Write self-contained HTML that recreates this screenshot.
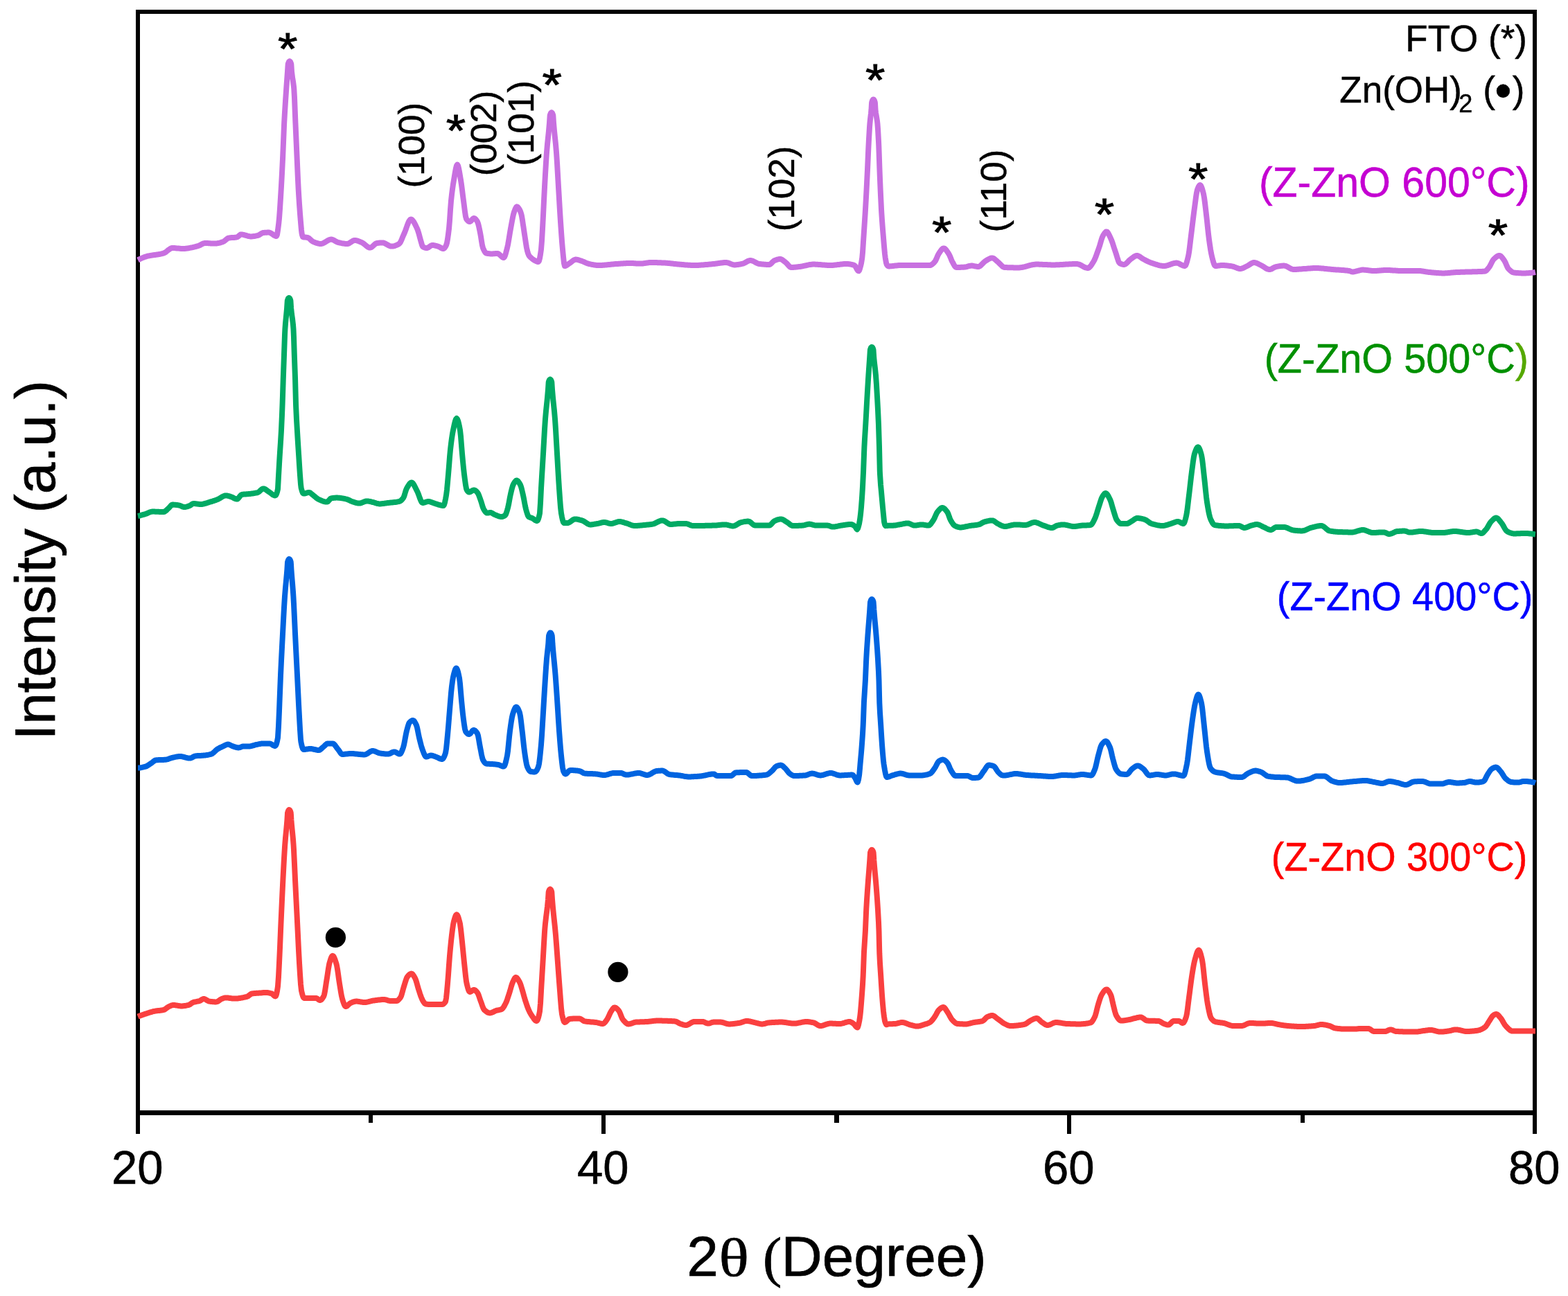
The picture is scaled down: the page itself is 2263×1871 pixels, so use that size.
<!DOCTYPE html>
<html lang="en">
<head>
<meta charset="utf-8">
<title>XRD patterns of Z-ZnO films</title>
<style>
html,body{margin:0;padding:0;background:#fff;}
body{width:2263px;height:1871px;overflow:hidden;}
svg{display:block;}
text{font-family:"Liberation Sans",Arial,Helvetica,sans-serif;fill:#000;}
.sym{font-family:"Liberation Serif","Times New Roman",serif;}
.curve{fill:none;stroke-linejoin:round;stroke-linecap:butt;}
</style>
</head>
<body>
<svg xmlns="http://www.w3.org/2000/svg" width="2263" height="1871" viewBox="0 0 2263 1871">
<rect x="0" y="0" width="2263" height="1871" fill="#ffffff"/>
<g id="axes" fill="#000">
<rect x="196" y="14" width="2022" height="6"/>
<rect x="196" y="1603" width="2022" height="7"/>
<rect x="196" y="14" width="6" height="1596"/>
<rect x="2212" y="14" width="6" height="1596"/>
<rect x="196" y="1603" width="6" height="34"/>
<rect x="868" y="1603" width="6" height="34"/>
<rect x="1540" y="1603" width="6" height="34"/>
<rect x="2212" y="1603" width="6" height="34"/>
<rect x="532" y="1603" width="6" height="18"/>
<rect x="1204" y="1603" width="7" height="18"/>
<rect x="1877" y="1603" width="6" height="18"/>
</g>
<g id="curves">
<path class="curve" d="M199,1467.6L200,1467.2L201,1466.8L202,1466.4L203,1466.1L204,1465.7L205,1465.3L206,1465L207,1464.6L208,1464.3L209,1463.9L210,1463.6L211,1463.3L212,1463L213,1462.6L214,1462.3L215,1462L216,1461.7L217,1461.4L218,1461.1L219,1460.8L220,1460.5L221,1460.2L222,1460L223,1459.8L224,1459.6L225,1459.4L226,1459.3L227,1459.2L228,1459.1L229,1459L230,1458.9L231,1458.8L232,1458.7L233,1458.5L234,1458.4L235,1458.2L236,1458L237,1457.7L238,1457.1L239,1456.5L240,1455.7L241,1454.9L242,1454.2L243,1453.5L244,1453L245,1452.6L246,1452.1L247,1451.7L248,1451.3L249,1451.1L250,1451L251,1451L252,1451.1L253,1451.2L254,1451.4L255,1451.5L256,1451.7L257,1451.9L258,1452L259,1452.2L260,1452.3L261,1452.4L262,1452.4L263,1452.4L264,1452.3L265,1452.2L266,1452.1L267,1452L268,1451.8L269,1451.6L270,1451.4L271,1451.2L272,1451L273,1450.6L274,1450.1L275,1449.4L276,1448.7L277,1448L278,1447.4L279,1447L280,1446.7L281,1446.5L282,1446.3L283,1446.1L284,1445.9L285,1445.7L286,1445.5L287,1445.3L288,1445L289,1444.6L290,1443.9L291,1443.3L292,1442.6L293,1442.2L294,1442L295,1442.1L296,1442.5L297,1443L298,1443.7L299,1444.3L300,1444.9L301,1445.3L302,1445.6L303,1445.7L304,1445.9L305,1446L306,1446.1L307,1446.2L308,1446.3L309,1446.3L310,1446.4L311,1446.4L312,1446.4L313,1446.2L314,1445.8L315,1445.3L316,1444.6L317,1443.8L318,1443.1L319,1442.5L320,1442L321,1441.6L322,1441.3L323,1440.9L324,1440.7L325,1440.5L326,1440.4L327,1440.4L328,1440.5L329,1440.6L330,1440.7L331,1440.9L332,1441L333,1441.1L334,1441.3L335,1441.4L336,1441.5L337,1441.6L338,1441.6L339,1441.6L340,1441.6L341,1441.5L342,1441.4L343,1441.4L344,1441.3L345,1441.1L346,1441L347,1440.9L348,1440.7L349,1440.5L350,1440.3L351,1440.1L352,1439.9L353,1439.7L354,1439.5L355,1439.2L356,1439L357,1438.6L358,1438.1L359,1437.4L360,1436.6L361,1435.8L362,1435.2L363,1434.7L364,1434.4L365,1434.3L366,1434.2L367,1434.1L368,1434L369,1433.9L370,1433.8L371,1433.8L372,1433.7L373,1433.7L374,1433.6L375,1433.5L376,1433.4L377,1433.4L378,1433.3L379,1433.2L380,1433.1L381,1433.1L382,1433L383,1433L384,1433L385,1433L386,1433.1L387,1433.2L388,1433.4L389,1433.6L390,1433.9L391,1434.1L392,1434.4L393,1434.9L394,1435.8L395,1436.8L396,1437.7L397,1438.3L397.6,1438.4L398,1438.1L399,1435.5L400,1430.6L401,1424L402,1410.1L403,1390L404,1368.1L405,1343.9L405.6,1330L406,1321.1L407,1299L408,1278L408.4,1270L409,1258.3L410,1239.4L411,1222.9L411.2,1220L412,1210.2L413,1199.8L414,1189.1L414.4,1184L415,1173.9L415.1,1173.2L416,1170.5L417,1169.1L417.4,1169L418,1169.3L419,1171L419.7,1173.2L420,1176.8L420.4,1184L421,1191.3L422,1201.5L423,1212L423.6,1220L424,1226.7L425,1247.8L426,1270L427,1290.2L428,1310.1L429,1330L430,1350.9L431,1371.8L432,1390L433,1406.4L434,1421.1L435,1430L436,1434.4L437,1437.9L438,1440.2L439,1441L440,1441L441,1441L442,1441L443,1441L444,1441L445,1441L446,1441L447,1441L448,1441L449,1441L450,1441L451,1441L452,1441L453,1441L454,1441L455,1441L456,1441L457,1441.2L458,1441.8L459,1442.5L460,1443.2L461,1443.8L462,1444L463,1443.7L464,1443L465,1441.8L466,1440.3L467,1438.6L467.3,1438L468,1435.9L469,1430.9L470,1424.4L471,1417.7L471.6,1414L472,1411.6L473,1404.9L474,1398.2L475,1392.5L475.6,1390L476,1388.6L477,1385.4L478,1382.5L479,1380.5L480,1379.8L481,1380.3L482,1381.8L483,1384.1L484,1386.9L485,1390L485.6,1392L486,1393.6L487,1399.1L488,1406L489,1413.4L490,1420L491,1426.2L492,1432.4L493,1437.9L494,1442L495,1445.2L496,1448.2L497,1450.7L498,1452.4L499,1453L500,1452.8L501,1452.2L502,1451.3L503,1450.4L504,1449.4L505,1448.6L506,1448L507,1447.6L508,1447.1L509,1446.7L510,1446.4L511,1446.1L512,1445.8L513,1445.7L514,1445.6L515,1445.6L516,1445.7L517,1445.8L518,1446L519,1446.1L520,1446.3L521,1446.5L522,1446.6L523,1446.8L524,1446.9L525,1447L526,1447L527,1447L528,1446.9L529,1446.8L530,1446.6L531,1446.4L532,1446.2L533,1445.9L534,1445.7L535,1445.4L536,1445.2L537,1444.9L538,1444.7L539,1444.5L540,1444.4L541,1444.3L542,1444.1L543,1444L544,1443.9L545,1443.7L546,1443.6L547,1443.5L548,1443.4L549,1443.3L550,1443.2L551,1443.1L552,1443L553,1443L554,1443L555,1443.1L556,1443.2L557,1443.4L558,1443.7L559,1444L560,1444.3L561,1444.6L562,1444.8L563,1444.9L564,1445L565,1445L566,1445L567,1445L568,1445L569,1445L570,1445L571,1445L572,1445L573,1444.8L574,1444.3L575,1443.5L576,1442.5L577,1441.3L578,1440L579,1438L580,1434.8L581,1431.1L582,1427.4L583,1424L584,1420.8L585,1417.5L586,1414.4L587,1411.8L588,1410L589,1408.8L590,1407.7L591,1406.8L592,1406.1L593,1405.7L593.6,1405.6L594,1405.7L595,1406.2L596,1407.2L597,1408.6L598,1410.3L599,1412L600,1414.3L601,1417.4L602,1421L603,1424.6L604,1428L605,1431.1L606,1434.3L607,1437.2L607.5,1438.5L608,1439.8L609,1442.2L610,1444.3L611,1446L612,1447.4L613,1448.6L614,1449.3L614.5,1449.5L615,1449.6L616,1449.7L617,1449.8L618,1449.9L619,1449.9L620,1450L621,1450L622,1450L623,1450L624,1450L625,1450L626,1450L627,1450L628,1450L629,1450L630,1450L631,1450L632,1450L633,1450L634,1450L635,1450L636,1450L637,1450L638,1450L639,1449.8L640,1449.3L641,1448.5L642,1447.4L643,1446L644,1440.9L645,1431.1L646,1420L647,1407.5L648,1393.1L649,1380L650,1368.9L651,1358.8L652,1350L653,1342.1L654,1335L655,1330L656,1326.5L657,1323.4L658,1321.2L659,1320.4L660,1321.1L661,1323.1L662,1326.1L663,1329.7L663.6,1332L664,1333.9L665,1341.2L666,1350.5L667,1360L668,1369.8L669,1380.2L670,1390L671,1399.6L672,1409L673,1416.8L673.6,1420L674,1421.7L675,1425.6L676,1428.9L677,1431.2L678,1432L679,1431.8L680,1431.2L681,1430.5L682,1429.8L683,1429.2L684,1429L685,1429.2L686,1429.8L687,1430.7L688,1431.8L689,1433L690,1434.7L691,1437.3L692,1440.2L693,1443.2L694,1446L695,1448.7L696,1451.6L697,1454.3L698,1456.5L699,1458L700,1458.9L701,1459.7L702,1460.5L703,1461.1L704,1461.7L705,1462.1L706,1462.3L707,1462.4L708,1462.3L709,1462.1L710,1461.7L711,1461.3L712,1460.8L713,1460.3L714,1459.8L715,1459.4L716,1459L717,1458.7L718,1458.5L719,1458.3L720,1458.1L721,1457.9L722,1457.7L723,1457.4L724,1457L725,1456.3L726,1455.1L727,1453.6L728,1451.9L729,1450L730,1448L731,1445.8L732,1443.1L733,1440.1L734,1437.1L735,1434L736,1430.8L737,1427.2L738,1423.7L739,1420.5L740,1418L741,1415.8L742,1413.7L743,1412L744,1411.1L744.4,1411L745,1411.1L746,1411.8L747,1413L748,1414.5L749,1416.2L750,1418L751,1420.3L752,1423.3L753,1426.6L754,1430L755,1433.4L756,1437.1L757,1440.7L758,1444L759,1447.1L760,1450.1L761,1453L762,1455.6L763,1458L764,1460.1L765,1462.1L766,1463.9L767,1465.5L768,1467L769,1468.4L770,1469.9L771,1471.3L772,1472.6L773,1473.5L774,1474L774.4,1474L775,1473.7L776,1472.1L777,1469.1L778,1465L779,1460L780,1448.5L781,1430.5L781.6,1420L782,1413.5L783,1396.8L784,1380L785,1362.2L786,1345.4L786.4,1340L787,1333.4L788,1324.7L789,1317.1L790,1309L791,1298.6L791.7,1287.8L792,1286.7L793,1284.4L794,1283.6L795,1284.4L796,1286.7L796.3,1287.8L797,1298.6L798,1310.4L799,1320.4L800,1329.7L801,1339.2L802,1350L803,1362.6L804,1376.3L805,1390L806,1403.6L807,1417.1L808,1430L809,1443.2L810,1455.7L811,1464L812,1468.6L813,1472.4L814,1475L815,1476L816,1475.7L817,1475L818,1474.1L819,1473.1L820,1472.1L821,1471.3L822,1471L823,1470.9L824,1470.8L825,1470.8L826,1470.7L827,1470.6L828,1470.6L829,1470.5L830,1470.5L831,1470.5L832,1470.4L833,1470.4L834,1470.4L835,1470.4L836,1470.4L837,1470.6L838,1471L839,1471.5L840,1472.2L841,1472.9L842,1473.6L843,1474.1L844,1474.4L845,1474.6L846,1474.7L847,1474.8L848,1475L849,1475L850,1475.1L851,1475.2L852,1475.3L853,1475.4L854,1475.4L855,1475.5L856,1475.6L857,1475.7L858,1475.8L859,1475.9L860,1476L861,1476.2L862,1476.4L863,1476.6L864,1476.9L865,1477.2L866,1477.4L867,1477.7L868,1477.8L869,1478L870,1478L871,1477.7L872,1477L873,1476L874,1474.7L875,1473.4L876,1472L877,1470.4L878,1468.3L879,1466.1L880,1463.8L881,1461.7L882,1460L883,1458.5L884,1457L885,1455.7L886,1454.8L887,1454.4L888,1454.6L889,1455.1L890,1455.9L891,1456.8L892,1457.9L893,1459L894,1460.6L895,1462.8L896,1465.5L897,1468.1L898,1470.4L899,1472L900,1473.2L901,1474.3L902,1475.4L903,1476.4L904,1477.2L905,1477.8L906,1478.3L907,1478.4L908,1478.3L909,1478.2L910,1477.9L911,1477.6L912,1477.3L913,1476.9L914,1476.6L915,1476.2L916,1475.9L917,1475.7L918,1475.6L919,1475.5L920,1475.5L921,1475.4L922,1475.4L923,1475.4L924,1475.3L925,1475.3L926,1475.3L927,1475.2L928,1475.2L929,1475.2L930,1475.2L931,1475.1L932,1475.1L933,1475.1L934,1475L935,1474.9L936,1474.8L937,1474.7L938,1474.6L939,1474.5L940,1474.3L941,1474.2L942,1474.1L943,1473.9L944,1473.8L945,1473.7L946,1473.7L947,1473.6L948,1473.6L949,1473.6L950,1473.6L951,1473.6L952,1473.6L953,1473.6L954,1473.6L955,1473.6L956,1473.7L957,1473.7L958,1473.7L959,1473.7L960,1473.8L961,1473.8L962,1473.8L963,1473.8L964,1473.9L965,1473.9L966,1474L967,1474L968,1474.1L969,1474.1L970,1474.2L971,1474.2L972,1474.3L973,1474.3L974,1474.4L975,1474.6L976,1474.9L977,1475.4L978,1475.9L979,1476.5L980,1477.1L981,1477.6L982,1478L983,1478.3L984,1478.7L985,1479L986,1479.3L987,1479.6L988,1479.8L989,1479.9L990,1480L991,1479.9L992,1479.6L993,1479.2L994,1478.7L995,1478.1L996,1477.5L997,1476.9L998,1476.3L999,1475.8L1000,1475.4L1001,1475.1L1002,1475L1003,1475L1004,1475L1005,1475L1006,1475L1007,1475L1008,1475L1009,1475L1010,1475L1011,1475L1012,1475L1013,1475L1014,1475L1015,1475.1L1016,1475.4L1017,1475.8L1018,1476.3L1019,1476.8L1020,1477.2L1021,1477.5L1022,1477.6L1023,1477.5L1024,1477.3L1025,1477L1026,1476.6L1027,1476.2L1028,1475.9L1029,1475.7L1030,1475.6L1031,1475.6L1032,1475.6L1033,1475.6L1034,1475.6L1035,1475.6L1036,1475.6L1037,1475.6L1038,1475.6L1039,1475.6L1040,1475.6L1041,1475.7L1042,1475.8L1043,1476L1044,1476.3L1045,1476.7L1046,1477L1047,1477.3L1048,1477.7L1049,1478L1050,1478.2L1051,1478.3L1052,1478.4L1053,1478.4L1054,1478.4L1055,1478.3L1056,1478.2L1057,1478.2L1058,1478.1L1059,1478L1060,1477.8L1061,1477.7L1062,1477.6L1063,1477.4L1064,1477.3L1065,1477.1L1066,1477L1067,1476.8L1068,1476.6L1069,1476.3L1070,1476L1071,1475.6L1072,1475.3L1073,1475L1074,1474.6L1075,1474.4L1076,1474.2L1077,1474L1078,1474L1079,1474L1080,1474.1L1081,1474.3L1082,1474.4L1083,1474.7L1084,1474.9L1085,1475.2L1086,1475.4L1087,1475.7L1088,1475.9L1089,1476.2L1090,1476.4L1091,1476.6L1092,1476.9L1093,1477.1L1094,1477.4L1095,1477.7L1096,1477.9L1097,1478.1L1098,1478.3L1099,1478.4L1100,1478.4L1101,1478.4L1102,1478.2L1103,1478L1104,1477.8L1105,1477.5L1106,1477.2L1107,1476.9L1108,1476.7L1109,1476.5L1110,1476.4L1111,1476.3L1112,1476.3L1113,1476.2L1114,1476.1L1115,1476L1116,1476L1117,1475.9L1118,1475.9L1119,1475.8L1120,1475.8L1121,1475.7L1122,1475.7L1123,1475.7L1124,1475.6L1125,1475.6L1126,1475.6L1127,1475.6L1128,1475.6L1129,1475.6L1130,1475.7L1131,1475.7L1132,1475.9L1133,1476L1134,1476.1L1135,1476.3L1136,1476.4L1137,1476.6L1138,1476.8L1139,1476.9L1140,1477.1L1141,1477.2L1142,1477.3L1143,1477.5L1144,1477.5L1145,1477.6L1146,1477.6L1147,1477.6L1148,1477.5L1149,1477.4L1150,1477.3L1151,1477.1L1152,1476.9L1153,1476.7L1154,1476.5L1155,1476.3L1156,1476.1L1157,1475.9L1158,1475.7L1159,1475.5L1160,1475.3L1161,1475.2L1162,1475.1L1163,1475L1164,1475L1165,1475L1166,1475.1L1167,1475.2L1168,1475.3L1169,1475.4L1170,1475.6L1171,1475.8L1172,1476L1173,1476.2L1174,1476.4L1175,1476.7L1176,1477.2L1177,1477.7L1178,1478.3L1179,1479L1180,1479.6L1181,1480.1L1182,1480.6L1183,1480.9L1184,1481L1185,1481L1186,1480.8L1187,1480.6L1188,1480.3L1189,1480L1190,1479.7L1191,1479.3L1192,1478.9L1193,1478.6L1194,1478.3L1195,1478L1196,1477.8L1197,1477.6L1198,1477.6L1199,1477.6L1200,1477.6L1201,1477.6L1202,1477.7L1203,1477.7L1204,1477.8L1205,1477.8L1206,1477.8L1207,1477.9L1208,1477.9L1209,1478L1210,1478L1211,1478L1212,1478L1213,1478L1214,1477.8L1215,1477.6L1216,1477.4L1217,1477.1L1218,1476.8L1219,1476.5L1220,1476.2L1221,1475.9L1222,1475.6L1223,1475.4L1224,1475.2L1225,1475L1226,1475L1227,1475.1L1228,1475.5L1229,1476L1230,1476.6L1231,1477.3L1232,1478L1233,1478.9L1234,1480.2L1235,1481.5L1236,1482.6L1237,1483.3L1237.5,1483.4L1238,1482.9L1239,1479.7L1240,1475L1240.2,1474L1241,1469L1241.5,1465L1242,1460.3L1243,1448.6L1243.6,1440.8L1244,1435.5L1245,1421.1L1245.7,1408.5L1246,1401.2L1246.9,1376.3L1247,1374.3L1248,1358.4L1248.9,1344L1249,1342L1250,1318.1L1250.3,1311.8L1251,1299.8L1252,1285.1L1252.4,1279.5L1253,1271.4L1254,1258.8L1255,1245.9L1255.3,1241.7L1256,1230.9L1257,1228L1258,1226.8L1258.3,1226.7L1259,1227.1L1260,1228.9L1260.6,1230.9L1261,1236.4L1261.3,1241.7L1262,1250.5L1263,1261.5L1264,1272.3L1264.6,1279.5L1265,1284.6L1266,1298L1266.9,1311.8L1267,1313.5L1268,1331.7L1268.5,1344L1269,1365.1L1269.3,1376.3L1270,1390.6L1271,1405.4L1271.2,1408.5L1272,1421.6L1273,1436.8L1273.3,1440.8L1274,1449.3L1275,1459.9L1275.6,1465L1276,1467.9L1277,1473.9L1277.3,1475L1278,1477L1279,1479L1279.5,1479.3L1280,1479.2L1281,1478.7L1282,1478.4L1283,1478.3L1284,1478.3L1285,1478.2L1286,1478.2L1287,1478.2L1288,1478.2L1289,1478.1L1290,1478.1L1291,1478.1L1292,1478L1293,1477.9L1294,1477.7L1295,1477.5L1296,1477.2L1297,1476.9L1298,1476.6L1299,1476.4L1300,1476.2L1301,1476L1302,1476L1303,1476.1L1304,1476.2L1305,1476.4L1306,1476.7L1307,1477.1L1308,1477.4L1309,1477.8L1310,1478.2L1311,1478.6L1312,1479L1313,1479.3L1314,1479.6L1315,1479.8L1316,1480.1L1317,1480.4L1318,1480.6L1319,1480.9L1320,1481.1L1321,1481.3L1322,1481.5L1323,1481.6L1324,1481.6L1325,1481.6L1326,1481.4L1327,1481.2L1328,1481L1329,1480.7L1330,1480.4L1331,1480L1332,1479.7L1333,1479.3L1334,1479L1335,1478.7L1336,1478.4L1337,1478.1L1338,1477.8L1339,1477.4L1340,1477L1341,1476.5L1342,1476L1343,1475.3L1344,1474.4L1345,1473.3L1346,1472.1L1347,1470.7L1348,1469.4L1349,1468L1350,1466.4L1351,1464.6L1352,1462.7L1353,1460.8L1354,1459.2L1355,1458L1356,1457.1L1357,1456.2L1358,1455.4L1359,1454.8L1360,1454.3L1361,1454L1361.4,1454L1362,1454.1L1363,1454.8L1364,1455.9L1365,1457.3L1366,1458.9L1367,1460.5L1368,1462L1369,1463.6L1370,1465.4L1371,1467.3L1372,1469.1L1373,1470.7L1374,1472L1375,1473.1L1376,1474.1L1377,1475.1L1378,1476L1379,1476.8L1380,1477.4L1381,1477.8L1382,1478L1383,1478.1L1384,1478.1L1385,1478.2L1386,1478.2L1387,1478.3L1388,1478.3L1389,1478.3L1390,1478.4L1391,1478.4L1392,1478.4L1393,1478.4L1394,1478.4L1395,1478.4L1396,1478.3L1397,1478.1L1398,1477.9L1399,1477.7L1400,1477.5L1401,1477.2L1402,1476.9L1403,1476.7L1404,1476.4L1405,1476.2L1406,1476L1407,1475.8L1408,1475.7L1409,1475.5L1410,1475.4L1411,1475.3L1412,1475.2L1413,1475L1414,1474.9L1415,1474.7L1416,1474.5L1417,1474.3L1418,1474L1419,1473.5L1420,1472.7L1421,1471.7L1422,1470.6L1423,1469.5L1424,1468.6L1425,1468L1426,1467.6L1427,1467.2L1428,1466.8L1429,1466.5L1430,1466.2L1431,1466.1L1432,1466L1433,1466.1L1434,1466.5L1435,1467.1L1436,1467.8L1437,1468.6L1438,1469.5L1439,1470.3L1440,1471L1441,1471.7L1442,1472.4L1443,1473.2L1444,1473.9L1445,1474.7L1446,1475.5L1447,1476.2L1448,1476.9L1449,1477.5L1450,1478L1451,1478.5L1452,1479L1453,1479.5L1454,1480L1455,1480.4L1456,1480.7L1457,1480.9L1458,1481L1459,1481L1460,1481L1461,1480.9L1462,1480.9L1463,1480.9L1464,1480.8L1465,1480.7L1466,1480.7L1467,1480.6L1468,1480.5L1469,1480.4L1470,1480.2L1471,1480.1L1472,1480L1473,1479.8L1474,1479.7L1475,1479.5L1476,1479.4L1477,1479.2L1478,1479L1479,1478.7L1480,1478.3L1481,1477.7L1482,1477.1L1483,1476.3L1484,1475.6L1485,1474.9L1486,1474.2L1487,1473.5L1488,1473L1489,1472.5L1490,1472L1491,1471.5L1492,1471L1493,1470.6L1494,1470.3L1495,1470.1L1496,1470L1497,1470.2L1498,1470.7L1499,1471.5L1500,1472.4L1501,1473.4L1502,1474.4L1503,1475.3L1504,1476L1505,1476.6L1506,1477.3L1507,1478L1508,1478.6L1509,1479.2L1510,1479.6L1511,1479.9L1512,1480L1513,1479.9L1514,1479.7L1515,1479.4L1516,1479L1517,1478.5L1518,1478L1519,1477.5L1520,1477L1521,1476.6L1522,1476.3L1523,1476.1L1524,1476L1525,1476L1526,1476.1L1527,1476.2L1528,1476.3L1529,1476.4L1530,1476.6L1531,1476.7L1532,1476.9L1533,1477.1L1534,1477.3L1535,1477.4L1536,1477.6L1537,1477.7L1538,1477.9L1539,1477.9L1540,1478L1541,1478L1542,1478.1L1543,1478.1L1544,1478.1L1545,1478.2L1546,1478.2L1547,1478.2L1548,1478.3L1549,1478.3L1550,1478.3L1551,1478.3L1552,1478.3L1553,1478.4L1554,1478.4L1555,1478.4L1556,1478.4L1557,1478.4L1558,1478.4L1559,1478.4L1560,1478.4L1561,1478.3L1562,1478.3L1563,1478.2L1564,1478.1L1565,1478L1566,1477.9L1567,1477.8L1568,1477.6L1569,1477.5L1570,1477.3L1571,1477.1L1572,1476.9L1573,1476.7L1574,1476.4L1575,1475.9L1576,1474.9L1577,1473.5L1578,1471.9L1579,1470L1580,1468L1581,1465.3L1582,1461.7L1583,1457.6L1584,1453.6L1585,1450L1586,1446.8L1587,1443.6L1588,1440.6L1589,1438L1590,1436L1591,1434.4L1592,1432.9L1593,1431.4L1594,1430.2L1595,1429.3L1596,1428.6L1597,1428.4L1598,1428.7L1599,1429.5L1600,1430.7L1601,1432.3L1602,1434.1L1603,1436L1604,1438.9L1605,1443.1L1606,1447.8L1607,1452L1608,1456L1609,1460L1610,1463.5L1611,1466L1612,1467.7L1613,1469.3L1614,1470.7L1615,1471.9L1616,1472.8L1617,1473.4L1618,1473.6L1619,1473.6L1620,1473.5L1621,1473.4L1622,1473.3L1623,1473.2L1624,1473.1L1625,1472.9L1626,1472.7L1627,1472.6L1628,1472.4L1629,1472.2L1630,1472L1631,1471.8L1632,1471.5L1633,1471.3L1634,1471L1635,1470.7L1636,1470.5L1637,1470.2L1638,1470L1639,1469.8L1640,1469.5L1641,1469.2L1642,1469L1643,1468.8L1644,1468.6L1645,1468.4L1646,1468.4L1647,1468.5L1648,1468.9L1649,1469.5L1650,1470.2L1651,1470.9L1652,1471.7L1653,1472.4L1654,1473L1655,1473.4L1656,1473.6L1657,1473.6L1658,1473.7L1659,1473.7L1660,1473.7L1661,1473.8L1662,1473.8L1663,1473.8L1664,1473.8L1665,1473.8L1666,1473.8L1667,1473.8L1668,1473.9L1669,1473.9L1670,1473.9L1671,1474L1672,1474L1673,1474.2L1674,1474.6L1675,1475.1L1676,1475.7L1677,1476.4L1678,1477L1679,1477.6L1680,1478L1681,1478.4L1682,1478.7L1683,1479.1L1684,1479.3L1685,1479.5L1686,1479.6L1687,1479.4L1688,1478.7L1689,1477.8L1690,1476.8L1691,1475.8L1692,1474.9L1693,1474.2L1694,1474L1695,1474L1696,1474L1697,1474L1698,1474L1699,1474L1700,1474L1701,1474L1702,1474.2L1703,1474.8L1704,1475.5L1705,1476.2L1706,1476.8L1707,1477L1708,1476.5L1709,1475.2L1710,1473.3L1711,1470.8L1712,1468L1713,1463.3L1714,1456.2L1715,1447.9L1716,1440L1717,1432.4L1718,1424.5L1719,1416.9L1720,1410L1721,1403.7L1722,1397.6L1723,1392.1L1724,1387.5L1724.4,1386L1725,1383.8L1726,1380.3L1727,1376.9L1728,1374.2L1729,1372.3L1730,1371.6L1731,1372.4L1732,1374.6L1733,1377.8L1734,1381.7L1735,1386L1736,1392.3L1737,1401.2L1738,1411L1739,1420L1740,1428.2L1741,1436.3L1742,1443.8L1743,1450L1744,1455.2L1745,1460.2L1746,1464.5L1747,1467.9L1748,1470L1749,1471.3L1750,1472.4L1751,1473.3L1752,1474.1L1753,1474.6L1754,1475L1755,1475.3L1756,1475.5L1757,1475.7L1758,1475.9L1759,1476L1760,1476.1L1761,1476.3L1762,1476.4L1763,1476.5L1764,1476.6L1765,1476.8L1766,1477L1767,1477.2L1768,1477.5L1769,1477.9L1770,1478.2L1771,1478.6L1772,1479L1773,1479.4L1774,1479.7L1775,1480.1L1776,1480.4L1777,1480.6L1778,1480.8L1779,1481L1780,1481L1781,1481L1782,1481L1783,1481L1784,1481L1785,1481L1786,1481L1787,1481L1788,1481L1789,1481L1790,1481L1791,1481L1792,1481L1793,1480.9L1794,1480.7L1795,1480.4L1796,1480L1797,1479.5L1798,1479L1799,1478.5L1800,1478L1801,1477.6L1802,1477.3L1803,1477.1L1804,1477L1805,1477L1806,1477L1807,1477.1L1808,1477.1L1809,1477.1L1810,1477.2L1811,1477.2L1812,1477.3L1813,1477.4L1814,1477.4L1815,1477.5L1816,1477.5L1817,1477.5L1818,1477.6L1819,1477.6L1820,1477.6L1821,1477.6L1822,1477.6L1823,1477.5L1824,1477.5L1825,1477.4L1826,1477.4L1827,1477.3L1828,1477.2L1829,1477.2L1830,1477.1L1831,1477.1L1832,1477L1833,1477L1834,1477L1835,1477L1836,1477.1L1837,1477.2L1838,1477.4L1839,1477.6L1840,1477.8L1841,1478L1842,1478.3L1843,1478.5L1844,1478.8L1845,1479L1846,1479.2L1847,1479.4L1848,1479.6L1849,1479.7L1850,1479.9L1851,1480L1852,1480.2L1853,1480.3L1854,1480.5L1855,1480.6L1856,1480.7L1857,1480.8L1858,1480.9L1859,1481L1860,1481.1L1861,1481.2L1862,1481.2L1863,1481.3L1864,1481.4L1865,1481.5L1866,1481.5L1867,1481.6L1868,1481.7L1869,1481.7L1870,1481.8L1871,1481.8L1872,1481.9L1873,1481.9L1874,1482L1875,1482L1876,1482L1877,1482L1878,1482L1879,1482L1880,1482L1881,1482L1882,1481.9L1883,1481.9L1884,1481.9L1885,1481.8L1886,1481.8L1887,1481.7L1888,1481.7L1889,1481.6L1890,1481.5L1891,1481.5L1892,1481.4L1893,1481.3L1894,1481.2L1895,1481.2L1896,1481.1L1897,1481L1898,1480.9L1899,1480.7L1900,1480.4L1901,1480.2L1902,1479.9L1903,1479.6L1904,1479.4L1905,1479.2L1906,1479L1907,1479L1908,1479L1909,1479.1L1910,1479.2L1911,1479.3L1912,1479.5L1913,1479.6L1914,1479.8L1915,1480L1916,1480.3L1917,1480.5L1918,1480.8L1919,1481L1920,1481.3L1921,1481.8L1922,1482.3L1923,1482.8L1924,1483.3L1925,1483.8L1926,1484.2L1927,1484.4L1928,1484.5L1929,1484.7L1930,1484.8L1931,1484.9L1932,1485L1933,1485.1L1934,1485.2L1935,1485.3L1936,1485.4L1937,1485.4L1938,1485.5L1939,1485.5L1940,1485.6L1941,1485.6L1942,1485.6L1943,1485.6L1944,1485.6L1945,1485.6L1946,1485.6L1947,1485.6L1948,1485.6L1949,1485.6L1950,1485.6L1951,1485.6L1952,1485.6L1953,1485.6L1954,1485.6L1955,1485.6L1956,1485.6L1957,1485.5L1958,1485.4L1959,1485.3L1960,1485.2L1961,1485.1L1962,1485L1963,1485L1964,1485L1965,1485L1966,1485L1967,1485L1968,1485L1969,1485L1970,1485L1971,1485L1972,1485L1973,1485L1974,1485L1975,1485L1976,1485.2L1977,1485.6L1978,1486.3L1979,1487L1980,1487.7L1981,1488.4L1982,1488.8L1983,1489L1984,1489L1985,1489L1986,1489L1987,1489L1988,1489L1989,1489L1990,1489L1991,1489L1992,1489L1993,1489L1994,1489L1995,1489L1996,1489L1997,1489L1998,1489L1999,1489L2000,1488.9L2001,1488.6L2002,1488.2L2003,1487.7L2004,1487.2L2005,1486.8L2006,1486.5L2007,1486.4L2008,1486.5L2009,1486.8L2010,1487.2L2011,1487.7L2012,1488.1L2013,1488.5L2014,1488.9L2015,1489L2016,1489L2017,1489.1L2018,1489.1L2019,1489.2L2020,1489.2L2021,1489.2L2022,1489.3L2023,1489.3L2024,1489.3L2025,1489.4L2026,1489.4L2027,1489.4L2028,1489.4L2029,1489.5L2030,1489.5L2031,1489.5L2032,1489.5L2033,1489.5L2034,1489.5L2035,1489.6L2036,1489.6L2037,1489.6L2038,1489.6L2039,1489.6L2040,1489.6L2041,1489.6L2042,1489.6L2043,1489.6L2044,1489.6L2045,1489.5L2046,1489.4L2047,1489.3L2048,1489.1L2049,1489L2050,1488.8L2051,1488.6L2052,1488.4L2053,1488.3L2054,1488.1L2055,1488L2056,1487.9L2057,1487.8L2058,1487.6L2059,1487.5L2060,1487.4L2061,1487.2L2062,1487.1L2063,1487.1L2064,1487L2065,1487L2066,1487L2067,1487.1L2068,1487.3L2069,1487.5L2070,1487.8L2071,1488L2072,1488.3L2073,1488.6L2074,1488.8L2075,1489.1L2076,1489.3L2077,1489.5L2078,1489.6L2079,1489.6L2080,1489.6L2081,1489.5L2082,1489.5L2083,1489.4L2084,1489.3L2085,1489.2L2086,1489.1L2087,1489L2088,1488.8L2089,1488.7L2090,1488.5L2091,1488.4L2092,1488.2L2093,1488L2094,1487.8L2095,1487.5L2096,1487.2L2097,1487L2098,1486.7L2099,1486.6L2100,1486.4L2101,1486.4L2102,1486.4L2103,1486.5L2104,1486.6L2105,1486.8L2106,1487L2107,1487.2L2108,1487.5L2109,1487.7L2110,1487.9L2111,1488.2L2112,1488.4L2113,1488.6L2114,1488.8L2115,1488.9L2116,1489L2117,1489L2118,1489L2119,1489L2120,1488.9L2121,1488.9L2122,1488.8L2123,1488.8L2124,1488.7L2125,1488.6L2126,1488.5L2127,1488.4L2128,1488.3L2129,1488.2L2130,1488L2131,1487.9L2132,1487.8L2133,1487.6L2134,1487.4L2135,1487.2L2136,1486.8L2137,1486.4L2138,1486L2139,1485.5L2140,1485L2141,1484.3L2142,1483.7L2143,1483L2144,1482.1L2145,1480.9L2146,1479.4L2147,1477.8L2148,1476.1L2149,1474.5L2150,1473L2151,1471.5L2152,1469.8L2153,1468.3L2154,1466.9L2155,1466L2156,1465.3L2157,1464.7L2158,1464.3L2159,1464L2159.4,1464L2160,1464.1L2161,1464.5L2162,1465.3L2163,1466.4L2164,1467.6L2165,1468.8L2166,1470L2167,1471.3L2168,1472.9L2169,1474.7L2170,1476.5L2171,1478.2L2172,1479.8L2173,1481L2174,1482.1L2175,1483.1L2176,1484.2L2177,1485.2L2178,1486.1L2179,1486.9L2180,1487.6L2181,1488.1L2182,1488.5L2183,1488.6L2184,1488.6L2185,1488.6L2186,1488.6L2187,1488.6L2188,1488.6L2189,1488.6L2190,1488.6L2191,1488.6L2192,1488.6L2193,1488.6L2194,1488.6L2195,1488.6L2196,1488.6L2197,1488.6L2198,1488.6L2199,1488.6L2200,1488.6L2201,1488.6L2202,1488.6L2203,1488.6L2204,1488.6L2205,1488.6L2206,1488.6L2207,1488.6L2208,1488.6L2209,1488.6L2210,1488.6L2211,1488.6L2212,1488.6L2213,1488.6L2214,1488.6L2215,1488.6L2216,1488.6" stroke="#fa4040" stroke-width="8"/>
<path class="curve" d="M199,1108.6L200,1108.6L201,1108.5L202,1108.4L203,1108.3L204,1108.1L205,1107.9L206,1107.7L207,1107.4L208,1107.2L209,1106.9L210,1106.6L211,1106.3L212,1105.8L213,1105.2L214,1104.6L215,1104L216,1103.3L217,1102.6L218,1102L219,1101.3L220,1100.5L221,1099.7L222,1098.9L223,1098.2L224,1097.7L225,1097.4L226,1097.3L227,1097.2L228,1097.2L229,1097.1L230,1097.1L231,1097L232,1097L233,1097L234,1096.9L235,1096.9L236,1096.9L237,1096.8L238,1096.8L239,1096.7L240,1096.6L241,1096.4L242,1096.2L243,1095.8L244,1095.4L245,1095L246,1094.6L247,1094.3L248,1094L249,1093.8L250,1093.5L251,1093.3L252,1093.1L253,1092.9L254,1092.7L255,1092.5L256,1092.3L257,1092.2L258,1092.1L259,1092L260,1092L261,1092L262,1092.1L263,1092.3L264,1092.5L265,1092.8L266,1093L267,1093.3L268,1093.6L269,1093.8L270,1094.1L271,1094.3L272,1094.5L273,1094.6L274,1094.6L275,1094.5L276,1094.1L277,1093.7L278,1093.1L279,1092.6L280,1092L281,1091.6L282,1091.4L283,1091.3L284,1091.2L285,1091.1L286,1091.1L287,1091L288,1091L289,1090.9L290,1090.9L291,1090.8L292,1090.8L293,1090.7L294,1090.6L295,1090.5L296,1090.4L297,1090.3L298,1090.1L299,1090L300,1089.8L301,1089.6L302,1089.4L303,1089.2L304,1088.9L305,1088.6L306,1088.2L307,1087.5L308,1086.7L309,1085.8L310,1084.9L311,1083.9L312,1082.9L313,1082.1L314,1081.4L315,1080.8L316,1080.3L317,1079.7L318,1079.2L319,1078.8L320,1078.3L321,1077.8L322,1077.4L323,1076.9L324,1076.4L325,1075.9L326,1075.4L327,1075L328,1074.7L329,1074.6L330,1074.7L331,1075L332,1075.5L333,1076L334,1076.5L335,1077L336,1077.4L337,1077.7L338,1078.1L339,1078.4L340,1078.7L341,1079L342,1079.2L343,1079.3L344,1079.4L345,1079.3L346,1079.1L347,1078.8L348,1078.4L349,1078L350,1077.7L351,1077.5L352,1077.4L353,1077.4L354,1077.4L355,1077.4L356,1077.4L357,1077.4L358,1077.4L359,1077.4L360,1077.4L361,1077.4L362,1077.2L363,1077L364,1076.7L365,1076.4L366,1076.1L367,1075.8L368,1075.5L369,1075.2L370,1075L371,1074.8L372,1074.6L373,1074.4L374,1074.2L375,1074L376,1073.8L377,1073.6L378,1073.5L379,1073.4L380,1073.4L381,1073.4L382,1073.4L383,1073.4L384,1073.4L385,1073.4L386,1073.4L387,1073.4L388,1073.4L389,1073.4L390,1073.6L391,1074L392,1074.5L393,1075.2L394,1075.9L395,1076.4L396,1076.8L397,1077L398,1076.2L399,1073.9L400,1070.1L401,1065L402,1048.7L402.6,1035L403,1025.9L404,1000L405,975L406,953.7L407,934L408,915L409,895.7L410,877L411,861L412,848.7L413,838.2L414,827.1L414.4,822L415,811.9L415.1,811.2L416,808.5L417,807.1L417.4,807L418,807.3L419,809L419.7,811.2L420,814.8L420.4,822L421,830L422,842L423,854.9L423.4,861L424,871.8L425,893.3L426,915L427,935.2L428,955.1L429,975L430,995.7L431,1016.3L432,1035L433,1053.1L434,1067.8L434.4,1071L435,1074L436,1078.2L437,1081L438,1082L439,1082L440,1081.9L441,1081.8L442,1081.6L443,1081.5L444,1081.4L445,1081.2L446,1081.1L447,1081L448,1081L449,1081L450,1081.1L451,1081.3L452,1081.5L453,1081.8L454,1082L455,1082.2L456,1082.5L457,1082.7L458,1082.9L459,1083L460,1083L461,1082.8L462,1082.3L463,1081.6L464,1080.7L465,1079.7L466,1078.8L467,1078L468,1077.1L469,1076.1L470,1075.1L471,1074.3L472,1073.6L473,1073.4L474,1073.4L475,1073.4L476,1073.4L477,1073.4L478,1073.4L479,1073.4L480,1073.4L481,1073.6L482,1074.3L483,1075.3L484,1076.6L485,1078L486,1079.4L487,1080.8L488,1082L489,1083.3L490,1084.8L491,1086.3L492,1087.7L493,1088.6L494,1089L495,1089L496,1088.9L497,1088.8L498,1088.7L499,1088.6L500,1088.5L501,1088.4L502,1088.3L503,1088.2L504,1088.1L505,1088L506,1088L507,1088L508,1088L509,1088.1L510,1088.1L511,1088.2L512,1088.3L513,1088.4L514,1088.5L515,1088.6L516,1088.7L517,1088.8L518,1088.9L519,1089L520,1089.1L521,1089.2L522,1089.3L523,1089.3L524,1089.4L525,1089.4L526,1089.4L527,1089.3L528,1089L529,1088.6L530,1088L531,1087.4L532,1086.7L533,1086L534,1085.4L535,1084.8L536,1084.4L537,1084.1L538,1084L539,1084.1L540,1084.3L541,1084.6L542,1085L543,1085.5L544,1086L545,1086.4L546,1086.8L547,1087.2L548,1087.4L549,1087.6L550,1087.7L551,1087.9L552,1088L553,1088.1L554,1088.2L555,1088.3L556,1088.4L557,1088.5L558,1088.6L559,1088.6L560,1088.6L561,1088.5L562,1088.2L563,1087.8L564,1087.3L565,1086.7L566,1086.2L567,1085.8L568,1085.5L569,1085.4L570,1085.5L571,1085.9L572,1086.4L573,1087L574,1087.6L575,1088.1L576,1088.5L577,1088.6L578,1088L579,1086.5L580,1084.4L581,1081.8L582,1079L583,1075.3L584,1070.3L585,1064.8L586,1059.4L587,1055L588,1051.3L589,1047.7L590,1044.8L591,1043L592,1042L593,1041.2L594,1040.6L595,1040.1L596,1040L597,1040.4L598,1041.4L599,1043L600,1044.9L601,1047L602,1050.3L603,1055.1L604,1060.3L605,1065L606,1069L607,1073L608,1076.8L609,1080.2L610,1083L611,1085.6L612,1088.2L613,1090.4L614,1092L615,1092.6L616,1092.5L617,1092.2L618,1091.8L619,1091.4L620,1091L621,1090.7L622,1090.6L623,1090.7L624,1090.8L625,1091.1L626,1091.5L627,1091.9L628,1092.2L629,1092.6L630,1093L631,1093.4L632,1093.8L633,1094.3L634,1094.8L635,1095.3L636,1095.7L637,1095.9L638,1096L639,1095.6L640,1094.3L641,1092.4L642,1090L643,1087L644,1081.1L645,1071.5L646,1061L647,1049.8L648,1037.3L649,1025L650,1012.7L651,1000.7L652,991L653,983.6L654,977.5L655,973L656,969.5L657,966.5L658,964.8L658.4,964.6L659,964.9L660,966.8L661,970L662,974.2L663,979L664,987.3L665,999.4L666,1011L667,1021.1L668,1030.8L669,1039L670,1046.2L671,1052.5L672,1056L673,1057.4L674,1058.5L675,1059.3L676,1059.8L677,1060L678,1059.6L679,1058.7L680,1057.4L681,1056.1L682,1054.9L683,1054.1L683.6,1054L684,1054L685,1054.4L686,1055.1L687,1056.2L688,1057.5L689,1059L690,1062.1L691,1067.4L692,1073.5L693,1079L694,1084.1L695,1089.5L696,1094L697,1097L698,1098.7L699,1100.2L700,1101.4L701,1102.2L702,1102.6L703,1102.7L704,1102.8L705,1102.8L706,1102.8L707,1102.9L708,1102.9L709,1102.9L710,1103L711,1103.1L712,1103.2L713,1103.2L714,1103.3L715,1103.4L716,1103.6L717,1103.7L718,1103.8L719,1104L720,1104.2L721,1104.6L722,1105L723,1105.5L724,1105.9L725,1106.3L726,1106.5L727,1106.6L728,1105.7L729,1103.4L730,1099.9L731,1095.6L732,1091L733,1084.1L734,1074.2L735,1063.8L736,1055L737,1047.8L738,1041L739,1035.2L740,1031L741,1027.9L742,1025.1L743,1022.8L744,1021.2L745,1020.6L746,1021L747,1022.2L748,1024L749,1026.3L750,1029L751,1033.8L752,1041.3L753,1050L753.6,1055L754,1058.3L755,1067.6L756,1077L757,1085L758,1091.8L759,1098.3L760,1103.6L761,1107L762,1109.2L763,1111L764,1112.5L765,1113.6L766,1114L767,1114.1L768,1114.2L769,1114.3L770,1114.4L771,1114.4L772,1114.4L773,1114L774,1113L775,1111.5L776,1109.4L777,1107L778,1102.6L779,1095.1L780,1085.6L781,1075L782,1061.5L783,1044.9L783.6,1035L784,1028.5L785,1011.5L786,995L787,979.2L788,964L789,951L790,941.6L791,932.8L791.4,928.4L792,918.3L792.1,917.6L793,914.9L794,913.5L794.4,913.4L795,913.7L796,915.4L796.7,917.6L797,921.2L797.4,928.4L798,936L799,947L800,957.2L801,967.9L801.6,975L802,980.2L803,994.2L804,1009L804.4,1015L805,1024.2L806,1040.2L807,1055L808,1068.3L809,1080.6L810,1091L811,1100.2L812,1108.2L813,1113L814,1115.2L815,1116.8L816,1117.4L817,1117.1L818,1116.3L819,1115.3L820,1114.1L821,1113.1L822,1112.3L823,1112L824,1112L825,1112L826,1112.1L827,1112.1L828,1112.2L829,1112.2L830,1112.3L831,1112.4L832,1112.5L833,1112.6L834,1112.7L835,1112.9L836,1113L837,1113.3L838,1113.7L839,1114.2L840,1114.8L841,1115.4L842,1116L843,1116.4L844,1116.6L845,1116.7L846,1116.8L847,1116.8L848,1116.9L849,1116.9L850,1117L851,1117L852,1117L853,1117.1L854,1117.1L855,1117.1L856,1117.2L857,1117.2L858,1117.3L859,1117.3L860,1117.4L861,1117.5L862,1117.6L863,1117.8L864,1117.9L865,1118.1L866,1118.3L867,1118.5L868,1118.7L869,1118.8L870,1118.9L871,1119L872,1119L873,1119L874,1118.8L875,1118.6L876,1118.4L877,1118.1L878,1117.8L879,1117.5L880,1117.2L881,1116.9L882,1116.6L883,1116.4L884,1116.2L885,1116L886,1116L887,1116L888,1116L889,1116L890,1116L891,1116L892,1116L893,1116L894,1116L895,1116L896,1116L897,1116.1L898,1116.4L899,1116.8L900,1117.3L901,1117.8L902,1118.2L903,1118.5L904,1118.6L905,1118.6L906,1118.5L907,1118.4L908,1118.3L909,1118.1L910,1117.9L911,1117.7L912,1117.5L913,1117.3L914,1117.1L915,1116.9L916,1116.7L917,1116.5L918,1116.3L919,1116.2L920,1116.1L921,1116L922,1116L923,1116.1L924,1116.2L925,1116.5L926,1116.8L927,1117.1L928,1117.5L929,1117.9L930,1118.2L931,1118.5L932,1118.8L933,1118.9L934,1119L935,1118.9L936,1118.7L937,1118.3L938,1117.9L939,1117.3L940,1116.8L941,1116.1L942,1115.5L943,1114.9L944,1114.4L945,1113.9L946,1113.5L947,1113.2L948,1113L949,1112.9L950,1112.8L951,1112.8L952,1112.7L953,1112.7L954,1112.6L955,1112.6L956,1112.6L957,1112.7L958,1113.1L959,1113.7L960,1114.3L961,1115.1L962,1115.8L963,1116.6L964,1117.2L965,1117.7L966,1118L967,1118.2L968,1118.3L969,1118.4L970,1118.5L971,1118.6L972,1118.7L973,1118.8L974,1118.9L975,1119L976,1119L977,1119.1L978,1119.2L979,1119.3L980,1119.4L981,1119.5L982,1119.7L983,1119.9L984,1120L985,1120.2L986,1120.4L987,1120.6L988,1120.8L989,1121L990,1121.1L991,1121.2L992,1121.3L993,1121.4L994,1121.4L995,1121.4L996,1121.4L997,1121.4L998,1121.3L999,1121.3L1000,1121.3L1001,1121.2L1002,1121.1L1003,1121.1L1004,1121L1005,1121L1006,1120.9L1007,1120.8L1008,1120.7L1009,1120.7L1010,1120.6L1011,1120.5L1012,1120.4L1013,1120.2L1014,1120.1L1015,1119.9L1016,1119.7L1017,1119.5L1018,1119.3L1019,1119L1020,1118.8L1021,1118.6L1022,1118.4L1023,1118.2L1024,1118L1025,1117.8L1026,1117.7L1027,1117.6L1028,1117.5L1029,1117.4L1030,1117.4L1031,1117.7L1032,1118.3L1033,1119.1L1034,1119.7L1035,1120L1036,1120L1037,1120L1038,1120L1039,1120L1040,1120L1041,1120L1042,1120L1043,1120L1044,1120L1045,1120L1046,1120L1047,1120L1048,1120L1049,1120L1050,1120L1051,1120L1052,1120L1053,1120L1054,1120L1055,1120L1056,1119.8L1057,1119.1L1058,1118.2L1059,1117.3L1060,1116.4L1061,1115.7L1062,1115.4L1063,1115.3L1064,1115.3L1065,1115.2L1066,1115.2L1067,1115.2L1068,1115.1L1069,1115.1L1070,1115.1L1071,1115.1L1072,1115L1073,1115L1074,1115L1075,1115L1076,1115L1077,1115L1078,1115.2L1079,1115.8L1080,1116.6L1081,1117.5L1082,1118.4L1083,1119.2L1084,1119.8L1085,1120L1086,1120L1087,1120L1088,1120L1089,1120L1090,1119.9L1091,1119.9L1092,1119.9L1093,1119.8L1094,1119.8L1095,1119.7L1096,1119.6L1097,1119.6L1098,1119.5L1099,1119.4L1100,1119.3L1101,1119.2L1102,1119.1L1103,1119L1104,1118.9L1105,1118.7L1106,1118.6L1107,1118.3L1108,1117.9L1109,1117.2L1110,1116.5L1111,1115.6L1112,1114.8L1113,1113.9L1114,1113L1115,1112.1L1116,1110.9L1117,1109.7L1118,1108.5L1119,1107.4L1120,1106.6L1121,1106L1122,1105.6L1123,1105.3L1124,1105L1125,1104.8L1126,1104.7L1127,1104.6L1128,1104.8L1129,1105.3L1130,1106.1L1131,1107.1L1132,1108.1L1133,1109L1134,1110L1135,1111.2L1136,1112.5L1137,1113.8L1138,1115.1L1139,1116.2L1140,1117L1141,1117.7L1142,1118.4L1143,1119L1144,1119.5L1145,1119.9L1146,1120L1147,1120L1148,1120L1149,1120L1150,1120L1151,1119.9L1152,1119.9L1153,1119.9L1154,1119.8L1155,1119.8L1156,1119.8L1157,1119.7L1158,1119.7L1159,1119.6L1160,1119.5L1161,1119.5L1162,1119.4L1163,1119.3L1164,1119L1165,1118.7L1166,1118.3L1167,1117.9L1168,1117.5L1169,1117.2L1170,1116.9L1171,1116.7L1172,1116.6L1173,1116.7L1174,1116.8L1175,1117L1176,1117.3L1177,1117.7L1178,1118L1179,1118.3L1180,1118.7L1181,1119L1182,1119.2L1183,1119.3L1184,1119.4L1185,1119.4L1186,1119.2L1187,1119L1188,1118.8L1189,1118.5L1190,1118.2L1191,1117.9L1192,1117.5L1193,1117.2L1194,1116.9L1195,1116.6L1196,1116.4L1197,1116.2L1198,1116L1199,1116L1200,1116.1L1201,1116.2L1202,1116.5L1203,1116.8L1204,1117.1L1205,1117.5L1206,1117.9L1207,1118.3L1208,1118.6L1209,1118.9L1210,1119.2L1211,1119.3L1212,1119.4L1213,1119.4L1214,1119.4L1215,1119.3L1216,1119.3L1217,1119.2L1218,1119.2L1219,1119.1L1220,1119.1L1221,1119L1222,1118.9L1223,1118.9L1224,1118.8L1225,1118.8L1226,1118.7L1227,1118.7L1228,1118.6L1229,1118.6L1230,1118.6L1231,1119L1232,1120.1L1233,1121.5L1234,1123L1235,1124.9L1236,1127.3L1237,1129L1237.6,1129.4L1238,1129L1239,1125.4L1240,1119.3L1240.2,1118L1241,1109.5L1241.5,1103.3L1242,1097.7L1243,1086.5L1243.6,1079.1L1244,1073.8L1245,1059.4L1245.7,1046.8L1246,1039.5L1246.9,1014.6L1247,1012.6L1248,996.7L1248.9,982.3L1249,980.3L1250,956.4L1250.3,950.1L1251,938.1L1252,923.4L1252.4,917.8L1253,909.7L1254,897.1L1255,884.2L1255.3,880L1256,869.2L1257,866.3L1258,865.1L1258.3,865L1259,865.4L1260,867.2L1260.6,869.2L1261,874.7L1261.3,880L1262,888.8L1263,899.8L1264,910.6L1264.6,917.8L1265,922.9L1266,936.3L1266.9,950.1L1267,951.8L1268,970L1268.5,982.3L1269,1003.4L1269.3,1014.6L1270,1028.9L1271,1043.7L1271.2,1046.8L1272,1059.9L1273,1075.1L1273.3,1079.1L1274,1087.8L1275,1098.6L1275.6,1103.3L1276,1105.8L1277,1111.9L1278,1117.1L1279,1120.7L1280,1122L1281,1121.9L1282,1121.7L1283,1121.4L1284,1121L1285,1120.5L1286,1120.1L1287,1119.7L1288,1119.4L1289,1119.1L1290,1118.8L1291,1118.5L1292,1118.2L1293,1117.9L1294,1117.6L1295,1117.3L1296,1117.1L1297,1116.9L1298,1116.7L1299,1116.6L1300,1116.6L1301,1116.7L1302,1116.8L1303,1117L1304,1117.3L1305,1117.7L1306,1118L1307,1118.3L1308,1118.7L1309,1119L1310,1119.2L1311,1119.3L1312,1119.4L1313,1119.4L1314,1119.4L1315,1119.4L1316,1119.4L1317,1119.4L1318,1119.4L1319,1119.4L1320,1119.4L1321,1119.4L1322,1119.4L1323,1119.4L1324,1119.4L1325,1119.4L1326,1119.4L1327,1119.4L1328,1119.4L1329,1119.4L1330,1119.4L1331,1119.4L1332,1119.3L1333,1119.2L1334,1119.1L1335,1118.9L1336,1118.7L1337,1118.5L1338,1118.3L1339,1118L1340,1117.7L1341,1117.4L1342,1117L1343,1116.5L1344,1115.6L1345,1114.5L1346,1113.2L1347,1111.8L1348,1110.4L1349,1109L1350,1107.4L1351,1105.5L1352,1103.5L1353,1101.6L1354,1100L1355,1099L1356,1098.4L1357,1097.8L1358,1097.3L1359,1096.9L1360,1096.7L1361,1096.6L1362,1096.8L1363,1097.3L1364,1098L1365,1098.9L1366,1099.9L1367,1101L1368,1102.4L1369,1104.4L1370,1106.7L1371,1109.1L1372,1111.2L1373,1113L1374,1114.5L1375,1116.1L1376,1117.6L1377,1118.8L1378,1119.7L1379,1120L1380,1120L1381,1120L1382,1120L1383,1120L1384,1120L1385,1120L1386,1120L1387,1120L1388,1120L1389,1120L1390,1120L1391,1120L1392,1120L1393,1120L1394,1120L1395,1120L1396,1120L1397,1120.1L1398,1120.5L1399,1120.9L1400,1121.5L1401,1122.1L1402,1122.5L1403,1122.9L1404,1123L1405,1123L1406,1123L1407,1122.9L1408,1122.9L1409,1122.8L1410,1122.8L1411,1122.7L1412,1122.6L1413,1122.2L1414,1121.4L1415,1120.3L1416,1118.9L1417,1117.4L1418,1115.8L1419,1114.3L1420,1113L1421,1111.7L1422,1110.1L1423,1108.5L1424,1107L1425,1105.8L1426,1104.9L1427,1104.6L1428,1104.6L1429,1104.7L1430,1104.9L1431,1105.1L1432,1105.4L1433,1105.7L1434,1106L1435,1106.6L1436,1107.8L1437,1109.2L1438,1110.8L1439,1112.4L1440,1113.9L1441,1115L1442,1116L1443,1117L1444,1117.9L1445,1118.7L1446,1119.2L1447,1119.4L1448,1119.4L1449,1119.4L1450,1119.4L1451,1119.4L1452,1119.3L1453,1119.2L1454,1119L1455,1118.8L1456,1118.6L1457,1118.4L1458,1118.2L1459,1118L1460,1117.8L1461,1117.6L1462,1117.4L1463,1117.2L1464,1117.1L1465,1117L1466,1117L1467,1117L1468,1117.1L1469,1117.1L1470,1117.3L1471,1117.4L1472,1117.5L1473,1117.7L1474,1117.8L1475,1118L1476,1118.2L1477,1118.4L1478,1118.5L1479,1118.7L1480,1118.8L1481,1118.9L1482,1119L1483,1119.1L1484,1119.1L1485,1119.2L1486,1119.3L1487,1119.3L1488,1119.4L1489,1119.4L1490,1119.5L1491,1119.5L1492,1119.6L1493,1119.6L1494,1119.7L1495,1119.7L1496,1119.8L1497,1119.8L1498,1119.9L1499,1119.9L1500,1120L1501,1120.1L1502,1120.1L1503,1120.2L1504,1120.3L1505,1120.3L1506,1120.4L1507,1120.5L1508,1120.6L1509,1120.6L1510,1120.7L1511,1120.8L1512,1120.8L1513,1120.9L1514,1120.9L1515,1120.9L1516,1121L1517,1121L1518,1121L1519,1121L1520,1120.9L1521,1120.8L1522,1120.7L1523,1120.5L1524,1120.4L1525,1120.2L1526,1120L1527,1119.8L1528,1119.6L1529,1119.5L1530,1119.3L1531,1119.2L1532,1119.1L1533,1119L1534,1119L1535,1119L1536,1119L1537,1119L1538,1119.1L1539,1119.1L1540,1119.1L1541,1119.2L1542,1119.2L1543,1119.2L1544,1119.3L1545,1119.3L1546,1119.3L1547,1119.4L1548,1119.4L1549,1119.4L1550,1119.4L1551,1119.4L1552,1119.3L1553,1119.2L1554,1119L1555,1118.9L1556,1118.7L1557,1118.5L1558,1118.4L1559,1118.2L1560,1118.1L1561,1118L1562,1118L1563,1118L1564,1118.1L1565,1118.2L1566,1118.3L1567,1118.5L1568,1118.6L1569,1118.8L1570,1118.9L1571,1119.1L1572,1119.2L1573,1119.3L1574,1119.4L1575,1119.4L1576,1118.9L1577,1117.6L1578,1115.7L1579,1113.4L1580,1111L1581,1108L1582,1104L1583,1099.5L1584,1095L1585,1091L1586,1087.3L1587,1083.5L1588,1079.9L1589,1077L1590,1075L1591,1073.7L1592,1072.5L1593,1071.5L1594,1070.7L1595,1070.2L1596,1070L1597,1070.4L1598,1071.3L1599,1072.8L1600,1074.7L1601,1076.8L1602,1079L1603,1082.1L1604,1086.3L1605,1090.9L1606,1095L1607,1098.7L1608,1102.5L1609,1106L1610,1109L1611,1111L1612,1112.4L1613,1113.7L1614,1114.9L1615,1115.8L1616,1116.6L1617,1117.1L1618,1117.4L1619,1117.5L1620,1117.7L1621,1117.8L1622,1117.8L1623,1117.9L1624,1118L1625,1118L1626,1118L1627,1117.7L1628,1117L1629,1116L1630,1114.7L1631,1113.4L1632,1112.1L1633,1110.9L1634,1110L1635,1109.2L1636,1108.5L1637,1107.7L1638,1107L1639,1106.3L1640,1105.8L1641,1105.5L1642,1105.4L1643,1105.5L1644,1105.8L1645,1106.3L1646,1107L1647,1107.7L1648,1108.5L1649,1109.2L1650,1110L1651,1110.9L1652,1112.1L1653,1113.4L1654,1114.8L1655,1116.2L1656,1117.5L1657,1118.5L1658,1119.2L1659,1119.4L1660,1119.4L1661,1119.3L1662,1119.1L1663,1119L1664,1118.8L1665,1118.6L1666,1118.4L1667,1118.3L1668,1118.1L1669,1118L1670,1118L1671,1118L1672,1118.1L1673,1118.2L1674,1118.4L1675,1118.5L1676,1118.7L1677,1118.9L1678,1119L1679,1119.2L1680,1119.3L1681,1119.4L1682,1119.4L1683,1119.4L1684,1119.3L1685,1119.1L1686,1118.9L1687,1118.6L1688,1118.4L1689,1118.2L1690,1117.9L1691,1117.7L1692,1117.5L1693,1117.4L1694,1117.4L1695,1117.4L1696,1117.5L1697,1117.7L1698,1117.9L1699,1118.2L1700,1118.4L1701,1118.7L1702,1119L1703,1119.2L1704,1119.5L1705,1119.7L1706,1119.9L1707,1120L1708,1120L1709,1119L1710,1116.3L1711,1112.5L1712,1107.9L1713,1103L1714,1096.8L1715,1088.6L1716,1079.6L1717,1071L1718,1062.8L1719,1054.4L1720,1046.4L1721,1039L1722,1032.1L1723,1025.5L1724,1019.6L1725,1015L1726,1011.1L1727,1007.3L1728,1004.4L1729,1002.8L1729.4,1002.6L1730,1002.9L1731,1004.6L1732,1007.4L1733,1011L1734,1015L1735,1021L1736,1029.7L1737,1039.5L1738,1049L1739,1058.4L1740,1068.2L1741,1077.5L1742,1085L1743,1091.3L1744,1097.3L1745,1102.6L1746,1106.6L1747,1109L1748,1110.3L1749,1111.4L1750,1112.4L1751,1113.2L1752,1113.8L1753,1114.2L1754,1114.6L1755,1114.9L1756,1115.1L1757,1115.3L1758,1115.4L1759,1115.6L1760,1115.7L1761,1115.8L1762,1115.9L1763,1116.1L1764,1116.2L1765,1116.4L1766,1116.6L1767,1116.9L1768,1117.3L1769,1117.7L1770,1118.2L1771,1118.7L1772,1119.2L1773,1119.7L1774,1120.2L1775,1120.6L1776,1121L1777,1121.3L1778,1121.4L1779,1121.5L1780,1121.5L1781,1121.6L1782,1121.7L1783,1121.7L1784,1121.8L1785,1121.8L1786,1121.9L1787,1121.9L1788,1121.9L1789,1122L1790,1122L1791,1122L1792,1122L1793,1121.9L1794,1121.5L1795,1121L1796,1120.3L1797,1119.5L1798,1118.7L1799,1117.9L1800,1117.2L1801,1116.5L1802,1116L1803,1115.6L1804,1115.1L1805,1114.6L1806,1114.2L1807,1113.8L1808,1113.4L1809,1113.1L1810,1112.8L1811,1112.7L1812,1112.6L1813,1112.6L1814,1112.8L1815,1113L1816,1113.3L1817,1113.6L1818,1113.9L1819,1114.2L1820,1114.6L1821,1115L1822,1115.6L1823,1116.3L1824,1117L1825,1117.8L1826,1118.5L1827,1119.2L1828,1119.8L1829,1120.3L1830,1120.6L1831,1120.8L1832,1121L1833,1121.1L1834,1121.3L1835,1121.4L1836,1121.5L1837,1121.6L1838,1121.7L1839,1121.8L1840,1121.9L1841,1122L1842,1122L1843,1122L1844,1122.1L1845,1122.1L1846,1122.1L1847,1122.1L1848,1122.2L1849,1122.2L1850,1122.2L1851,1122.2L1852,1122.2L1853,1122.3L1854,1122.3L1855,1122.3L1856,1122.4L1857,1122.4L1858,1122.5L1859,1122.7L1860,1123L1861,1123.3L1862,1123.7L1863,1124.2L1864,1124.6L1865,1125.1L1866,1125.6L1867,1126L1868,1126.4L1869,1126.8L1870,1127.1L1871,1127.4L1872,1127.5L1873,1127.6L1874,1127.6L1875,1127.5L1876,1127.5L1877,1127.4L1878,1127.2L1879,1127.1L1880,1126.9L1881,1126.8L1882,1126.6L1883,1126.4L1884,1126.2L1885,1125.9L1886,1125.7L1887,1125.5L1888,1125.2L1889,1125L1890,1124.7L1891,1124.3L1892,1123.9L1893,1123.4L1894,1122.9L1895,1122.4L1896,1121.8L1897,1121.4L1898,1121L1899,1120.7L1900,1120.5L1901,1120.4L1902,1120.4L1903,1120.4L1904,1120.4L1905,1120.4L1906,1120.4L1907,1120.4L1908,1120.4L1909,1120.4L1910,1120.4L1911,1120.4L1912,1120.5L1913,1120.8L1914,1121.3L1915,1122L1916,1122.7L1917,1123.5L1918,1124.3L1919,1125.1L1920,1125.9L1921,1126.6L1922,1127.2L1923,1127.6L1924,1127.9L1925,1128.3L1926,1128.6L1927,1128.9L1928,1129.2L1929,1129.5L1930,1129.7L1931,1129.9L1932,1130L1933,1130L1934,1130L1935,1130L1936,1129.9L1937,1129.9L1938,1129.8L1939,1129.7L1940,1129.6L1941,1129.5L1942,1129.4L1943,1129.3L1944,1129.1L1945,1129L1946,1128.9L1947,1128.8L1948,1128.7L1949,1128.6L1950,1128.5L1951,1128.4L1952,1128.3L1953,1128.2L1954,1128.1L1955,1128.1L1956,1128L1957,1127.9L1958,1127.8L1959,1127.7L1960,1127.6L1961,1127.5L1962,1127.4L1963,1127.3L1964,1127.3L1965,1127.2L1966,1127.1L1967,1127.1L1968,1127.1L1969,1127L1970,1127L1971,1127L1972,1127L1973,1127.1L1974,1127.2L1975,1127.4L1976,1127.5L1977,1127.8L1978,1128L1979,1128.2L1980,1128.4L1981,1128.6L1982,1128.8L1983,1129L1984,1129.2L1985,1129.4L1986,1129.6L1987,1129.8L1988,1130L1989,1130.2L1990,1130.5L1991,1130.6L1992,1130.8L1993,1130.9L1994,1131L1995,1131L1996,1130.9L1997,1130.7L1998,1130.4L1999,1129.9L2000,1129.5L2001,1129.1L2002,1128.6L2003,1128.3L2004,1128.1L2005,1128L2006,1128L2007,1128.1L2008,1128.2L2009,1128.3L2010,1128.5L2011,1128.7L2012,1128.9L2013,1129.1L2014,1129.4L2015,1129.6L2016,1129.8L2017,1130L2018,1130.2L2019,1130.5L2020,1130.8L2021,1131.1L2022,1131.5L2023,1131.8L2024,1132.1L2025,1132.4L2026,1132.6L2027,1132.8L2028,1133L2029,1133L2030,1132.9L2031,1132.7L2032,1132.3L2033,1131.9L2034,1131.3L2035,1130.8L2036,1130.2L2037,1129.7L2038,1129.2L2039,1128.8L2040,1128.5L2041,1128.4L2042,1128.3L2043,1128.3L2044,1128.2L2045,1128.2L2046,1128.1L2047,1128.1L2048,1128.1L2049,1128L2050,1128L2051,1128L2052,1128L2053,1128L2054,1128.1L2055,1128.3L2056,1128.6L2057,1128.9L2058,1129.4L2059,1129.8L2060,1130.2L2061,1130.7L2062,1131L2063,1131.3L2064,1131.5L2065,1131.6L2066,1131.6L2067,1131.6L2068,1131.6L2069,1131.6L2070,1131.6L2071,1131.6L2072,1131.6L2073,1131.6L2074,1131.6L2075,1131.6L2076,1131.6L2077,1131.6L2078,1131.6L2079,1131.6L2080,1131.6L2081,1131.6L2082,1131.5L2083,1131.3L2084,1131L2085,1130.7L2086,1130.3L2087,1129.9L2088,1129.6L2089,1129.3L2090,1129.1L2091,1129L2092,1129L2093,1129.1L2094,1129.2L2095,1129.4L2096,1129.5L2097,1129.7L2098,1129.9L2099,1130L2100,1130.2L2101,1130.3L2102,1130.4L2103,1130.4L2104,1130.4L2105,1130.4L2106,1130.4L2107,1130.3L2108,1130.3L2109,1130.2L2110,1130.2L2111,1130.1L2112,1130.1L2113,1130L2114,1129.9L2115,1129.6L2116,1129.3L2117,1128.9L2118,1128.6L2119,1128.3L2120,1128.1L2121,1128L2122,1128L2123,1128.2L2124,1128.3L2125,1128.6L2126,1128.8L2127,1129L2128,1129.3L2129,1129.4L2130,1129.6L2131,1129.6L2132,1129.6L2133,1129.5L2134,1129.5L2135,1129.3L2136,1129.2L2137,1129L2138,1128.8L2139,1128.6L2140,1128.3L2141,1128L2142,1127.2L2143,1125.8L2144,1123.9L2145,1121.8L2146,1119.7L2147,1118L2148,1116.5L2149,1114.9L2150,1113.4L2151,1112L2152,1110.8L2153,1110L2154,1109.4L2155,1108.8L2156,1108.3L2157,1107.9L2158,1107.7L2159,1107.6L2160,1107.8L2161,1108.4L2162,1109.3L2163,1110.4L2164,1111.6L2165,1112.8L2166,1114L2167,1115.3L2168,1116.8L2169,1118.4L2170,1120L2171,1121.6L2172,1122.9L2173,1124L2174,1124.9L2175,1125.7L2176,1126.5L2177,1127.3L2178,1127.9L2179,1128.4L2180,1128.8L2181,1129L2182,1129.1L2183,1129.2L2184,1129.3L2185,1129.4L2186,1129.4L2187,1129.5L2188,1129.5L2189,1129.6L2190,1129.6L2191,1129.6L2192,1129.5L2193,1129.3L2194,1129.1L2195,1128.8L2196,1128.5L2197,1128.2L2198,1128.1L2199,1128L2200,1128L2201,1128L2202,1128L2203,1128.1L2204,1128.1L2205,1128.2L2206,1128.3L2207,1128.4L2208,1128.5L2209,1128.6L2210,1128.8L2211,1129L2212,1129.2L2213,1129.4L2214,1129.7L2215,1130L2216,1130.4" stroke="#0064e0" stroke-width="8"/>
<path class="curve" d="M199,745L200,744.8L201,744.5L202,744.3L203,744L204,743.7L205,743.5L206,743.2L207,742.9L208,742.6L209,742.3L210,742L211,741.7L212,741.3L213,740.8L214,740.4L215,739.9L216,739.5L217,739.1L218,738.9L219,738.7L220,738.6L221,738.6L222,738.6L223,738.6L224,738.7L225,738.7L226,738.7L227,738.8L228,738.8L229,738.8L230,738.9L231,738.9L232,738.9L233,739L234,739L235,739L236,739L237,738.8L238,738.3L239,737.6L240,736.8L241,735.8L242,734.9L243,734L244,733L245,731.9L246,730.7L247,729.6L248,728.9L249,728.6L250,728.6L251,728.7L252,728.7L253,728.8L254,728.9L255,729L256,729.1L257,729.3L258,729.4L259,729.6L260,730L261,730.4L262,730.8L263,731.3L264,731.6L265,731.9L266,732L267,732L268,731.8L269,731.6L270,731.4L271,731.1L272,730.7L273,730.4L274,730L275,729.5L276,728.7L277,727.9L278,727.3L279,727L280,727L281,727.1L282,727.2L283,727.3L284,727.4L285,727.6L286,727.7L287,727.8L288,727.9L289,728L290,728L291,728L292,727.9L293,727.7L294,727.5L295,727.2L296,726.9L297,726.6L298,726.3L299,726L300,725.6L301,725.3L302,725L303,724.7L304,724.4L305,724.1L306,723.8L307,723.5L308,723.2L309,722.8L310,722.5L311,722.1L312,721.8L313,721.4L314,721L315,720.6L316,720L317,719.5L318,718.9L319,718.2L320,717.6L321,717L322,716.5L323,716.1L324,715.7L325,715.5L326,715.4L327,715.5L328,715.6L329,715.8L330,716.1L331,716.4L332,716.7L333,717.1L334,717.4L335,717.8L336,718.2L337,718.8L338,719.3L339,719.8L340,720.2L341,720.5L342,720.6L343,720.3L344,719.4L345,718.1L346,716.8L347,715.5L348,714.5L349,714L350,713.8L351,713.7L352,713.6L353,713.5L354,713.5L355,713.4L356,713.3L357,713.3L358,713.2L359,713.1L360,713L361,712.9L362,712.8L363,712.6L364,712.5L365,712.4L366,712.2L367,712.1L368,711.9L369,711.7L370,711.5L371,711.3L372,711L373,710.5L374,709.8L375,708.9L376,707.9L377,707L378,706.2L379,705.6L380,705.4L381,705.5L382,705.9L383,706.4L384,707.1L385,707.9L386,708.6L387,709.4L388,710L389,710.6L390,711.4L391,712.2L392,713L393,713.7L394,714.4L395,714.9L396,715.3L397,715.4L398,714.9L399,713.2L400,710.2L401,706L402,687.3L403,669.7L403.6,659.6L404,653.2L405,638.1L405.9,622.8L406,620.9L407,598.7L407.5,585.9L408,571.1L408.7,549L409,540.2L410,512.2L411,483.7L411.4,475.3L412,466.9L413,456.7L414,446.2L414.1,444.9L414.8,434.1L415,433.4L416,430.8L417,429.9L417.1,429.9L418,430.5L419,432.7L419.4,434.1L420,443.5L420.1,444.9L421,453.4L422,460.3L423,468.9L423.5,475.3L424,486.9L424.8,512.2L425,517.8L426,545.8L426.1,549L427,583L427.1,585.9L428,605.5L429,622.8L430,639.4L431,654.9L431.3,659.6L432,670.9L433,686L433.1,687.3L434,699L434.6,704L435,705.7L436,709.3L437,711.7L438,712.6L439,712.5L440,712.4L441,712.1L442,711.8L443,711.5L444,711.2L445,711.1L446,711L447,711.2L448,711.7L449,712.5L450,713.3L451,714.2L452,715L453,715.7L454,716.6L455,717.4L456,718.3L457,719.1L458,719.8L459,720.5L460,721L461,721.4L462,721.9L463,722.3L464,722.7L465,723.1L466,723.5L467,723.8L468,724.1L469,724.3L470,724.5L471,724.6L472,724.6L473,724.2L474,723.3L475,722.1L476,720.9L477,719.9L478,719.4L479,719.2L480,719.1L481,718.9L482,718.8L483,718.7L484,718.7L485,718.6L486,718.6L487,718.6L488,718.7L489,718.7L490,718.8L491,718.9L492,719.1L493,719.2L494,719.4L495,719.6L496,719.7L497,719.9L498,720.2L499,720.4L500,720.6L501,720.9L502,721.3L503,721.7L504,722.2L505,722.7L506,723.2L507,723.6L508,724L509,724.3L510,724.7L511,725L512,725.4L513,725.7L514,726L515,726.2L516,726.4L517,726.6L518,726.6L519,726.5L520,726.4L521,726.1L522,725.8L523,725.4L524,725L525,724.6L526,724.2L527,723.9L528,723.6L529,723.5L530,723.4L531,723.4L532,723.6L533,723.8L534,724L535,724.2L536,724.5L537,724.8L538,725L539,725.2L540,725.5L541,725.8L542,726.2L543,726.5L544,726.8L545,727L546,727.2L547,727.4L548,727.4L549,727.4L550,727.3L551,727.2L552,727.1L553,727L554,726.9L555,726.7L556,726.6L557,726.4L558,726.3L559,726.1L560,726L561,725.9L562,725.8L563,725.7L564,725.6L565,725.5L566,725.4L567,725.3L568,725.2L569,725.1L570,725L571,724.9L572,724.8L573,724.6L574,724.4L575,724.2L576,724L577,723.6L578,723.1L579,722.3L580,721.3L581,720.2L582,719L583,717L584,714L585,710.5L586,707.3L587,705L588,703.3L589,701.6L590,700L591,698.6L592,697.6L593,696.9L594,696.6L595,696.9L596,697.9L597,699.3L598,701L599,703L600,705L601,707.1L602,709L603,711.1L604,713.7L605,716.5L606,719.3L607,721.9L608,724L609,725.5L610,726L611,725.9L612,725.7L613,725.4L614,725L615,724.6L616,724.3L617,724.1L618,724L619,724.1L620,724.2L621,724.5L622,724.8L623,725.2L624,725.6L625,725.9L626,726.3L627,726.7L628,727L629,727.3L630,727.6L631,727.9L632,728.3L633,728.6L634,728.9L635,729.2L636,729.5L637,729.7L638,729.9L639,730L640,730L641,728.7L642,725.3L643,720.5L644,715L645,707.2L646,696.4L647,685L648,672.8L649,659.9L650,649L651,640.5L652,632.8L653,626.3L654,621L655,616.3L656,611.7L657,607.8L658,605L659,604L660,604.9L661,607.4L662,611.1L663,615.7L664,621L665,629.9L666,642.7L667,655L668,665.8L669,676.2L670,685L671,692.8L672,700L673,705.3L673.6,707L674,707.7L675,709.2L676,710.2L677,710.6L678,710.4L679,710L680,709.3L681,708.7L682,708L683,707.6L684,707.4L685,707.6L686,708.1L687,708.9L688,709.9L689,711L690,712.5L691,714.7L692,717.4L693,720.2L694,723L695,726.1L696,729.5L697,732.7L698,735L699,736.6L700,738.2L701,739.4L702,740.3L703,740.6L704,740.5L705,740.4L706,740.2L707,740.1L708,740L709,740.2L710,740.6L711,741.2L712,741.9L713,742.5L714,743L715,743.4L716,743.8L717,744.2L718,744.6L719,745L720,745.3L721,745.6L722,745.8L723,746L724,746L725,745.9L726,745.6L727,745.2L728,744.7L729,744L730,742.5L731,739.9L732,736.6L733,733L734,728.7L735,723.3L736,717.8L737,713L738,708.8L739,704.8L740,701.4L741,699L742,697.3L743,695.7L744,694.5L745,693.7L745.6,693.6L746,693.6L747,694.2L748,695.2L749,696.6L750,698.2L751,700L752,702.6L753,706.3L754,710.6L755,715L756,719.9L757,725.4L758,730.7L759,735L760,738.6L761,741.9L762,744.5L763,746L764,746.6L765,747L766,747.3L767,747.6L768,748L769,748.6L770,749.3L771,750L772,750.8L773,751.4L774,751.8L775,752L776,751.3L777,749.1L778,745.6L779,741L780,726L781,705L782,688L783,671.5L784,655L785,637.5L786,620.1L787,605L788,593.5L789,583.8L790,574.2L791,562.6L791.7,551.8L792,550.7L793,548.4L794,547.6L795,548.4L796,550.7L796.3,551.8L797,562.6L798,574.2L799,583.8L800,593.5L801,605L802,620.1L803,637.5L804,655L805,672.3L806,689.5L807,705L808,719.3L809,732.3L810,741L811,746.3L812,750.8L813,753.9L814,755L815,755L816,755L817,755L818,755L819,755L820,754.9L821,754.5L822,754L823,753.3L824,752.6L825,751.8L826,751.1L827,750.4L828,749.9L829,749.5L830,749.4L831,749.4L832,749.5L833,749.7L834,749.8L835,750L836,750.3L837,750.6L838,750.8L839,751.1L840,751.4L841,751.8L842,752.2L843,752.8L844,753.5L845,754.1L846,754.8L847,755.5L848,756.1L849,756.6L850,757L851,757.3L852,757.4L853,757.4L854,757.3L855,757.2L856,757.1L857,756.9L858,756.7L859,756.5L860,756.4L861,756.2L862,756L863,755.8L864,755.6L865,755.3L866,755.1L867,754.8L868,754.5L869,754.3L870,754.2L871,754L872,754L873,754.1L874,754.2L875,754.4L876,754.7L877,755L878,755.3L879,755.6L880,755.8L881,755.9L882,756L883,755.9L884,755.8L885,755.5L886,755.2L887,754.9L888,754.5L889,754.1L890,753.8L891,753.5L892,753.2L893,753.1L894,753L895,753L896,753.2L897,753.4L898,753.6L899,753.9L900,754.2L901,754.5L902,754.8L903,755.1L904,755.4L905,755.7L906,756L907,756.4L908,756.8L909,757.2L910,757.6L911,758L912,758.3L913,758.6L914,758.8L915,758.9L916,759L917,759L918,759L919,758.9L920,758.9L921,758.8L922,758.7L923,758.7L924,758.6L925,758.5L926,758.4L927,758.3L928,758.2L929,758.1L930,758L931,757.9L932,757.8L933,757.7L934,757.6L935,757.5L936,757.4L937,757.3L938,757.2L939,757.1L940,756.9L941,756.8L942,756.6L943,756.4L944,756.1L945,755.7L946,755.2L947,754.7L948,754.2L949,753.7L950,753.2L951,752.7L952,752.3L953,751.9L954,751.6L955,751.5L956,751.4L957,751.5L958,751.8L959,752.3L960,752.9L961,753.5L962,754.2L963,754.9L964,755.5L965,756.1L966,756.6L967,756.9L968,757L969,757L970,756.9L971,756.8L972,756.7L973,756.6L974,756.5L975,756.4L976,756.3L977,756.2L978,756.1L979,756L980,756L981,756L982,756L983,756L984,756L985,756L986,756L987,756L988,756L989,756L990,756L991,756.1L992,756.3L993,756.6L994,757.1L995,757.5L996,757.9L997,758.4L998,758.7L999,758.9L1000,759L1001,759L1002,759L1003,759L1004,759L1005,759L1006,759L1007,759L1008,759L1009,759L1010,759L1011,758.9L1012,758.9L1013,758.9L1014,758.9L1015,758.9L1016,758.9L1017,758.9L1018,758.8L1019,758.8L1020,758.8L1021,758.8L1022,758.8L1023,758.8L1024,758.7L1025,758.7L1026,758.7L1027,758.7L1028,758.6L1029,758.6L1030,758.6L1031,758.6L1032,758.5L1033,758.4L1034,758.4L1035,758.3L1036,758.2L1037,758.1L1038,758L1039,757.8L1040,757.7L1041,757.7L1042,757.6L1043,757.5L1044,757.4L1045,757.4L1046,757.4L1047,757.4L1048,757.5L1049,757.7L1050,757.9L1051,758.2L1052,758.4L1053,758.6L1054,758.9L1055,759.1L1056,759.3L1057,759.4L1058,759.4L1059,759.3L1060,759.1L1061,758.7L1062,758.2L1063,757.6L1064,757L1065,756.4L1066,755.8L1067,755.2L1068,754.7L1069,754.3L1070,754L1071,753.8L1072,753.6L1073,753.4L1074,753.2L1075,753L1076,752.9L1077,752.8L1078,752.7L1079,752.6L1080,752.6L1081,752.8L1082,753.2L1083,753.9L1084,754.7L1085,755.6L1086,756.5L1087,757.3L1088,758L1089,758.4L1090,758.6L1091,758.6L1092,758.6L1093,758.6L1094,758.6L1095,758.6L1096,758.6L1097,758.6L1098,758.6L1099,758.6L1100,758.6L1101,758.6L1102,758.6L1103,758.6L1104,758.6L1105,758.6L1106,758.6L1107,758.6L1108,758.6L1109,758.6L1110,758.6L1111,758.4L1112,757.7L1113,756.8L1114,755.7L1115,754.6L1116,753.5L1117,752.6L1118,752L1119,751.6L1120,751.1L1121,750.7L1122,750.4L1123,750.1L1124,749.8L1125,749.6L1126,749.4L1127,749.4L1128,749.5L1129,749.8L1130,750.2L1131,750.8L1132,751.4L1133,752.1L1134,752.7L1135,753.4L1136,754L1137,754.6L1138,755.4L1139,756.2L1140,757.1L1141,757.8L1142,758.4L1143,758.8L1144,759L1145,759L1146,759L1147,759L1148,759L1149,758.9L1150,758.9L1151,758.9L1152,758.9L1153,758.8L1154,758.8L1155,758.7L1156,758.7L1157,758.7L1158,758.6L1159,758.5L1160,758.3L1161,758.1L1162,757.8L1163,757.5L1164,757.3L1165,757L1166,756.8L1167,756.7L1168,756.6L1169,756.7L1170,756.8L1171,757L1172,757.3L1173,757.6L1174,757.9L1175,758.2L1176,758.4L1177,758.5L1178,758.6L1179,758.6L1180,758.6L1181,758.6L1182,758.6L1183,758.6L1184,758.6L1185,758.6L1186,758.6L1187,758.6L1188,758.6L1189,758.6L1190,758.6L1191,758.6L1192,758.6L1193,758.6L1194,758.6L1195,758.7L1196,758.9L1197,759.2L1198,759.6L1199,760L1200,760.3L1201,760.5L1202,760.6L1203,760.6L1204,760.5L1205,760.4L1206,760.2L1207,760L1208,759.8L1209,759.6L1210,759.4L1211,759.1L1212,758.9L1213,758.8L1214,758.6L1215,758.5L1216,758.3L1217,758.2L1218,758L1219,757.9L1220,757.7L1221,757.6L1222,757.4L1223,757.3L1224,757.2L1225,757.1L1226,757.1L1227,757L1228,757L1229,757.1L1230,757.4L1231,757.9L1232,758.5L1233,759.2L1234,760L1235,761.4L1236,763.3L1237,764.2L1238,763L1239,759.9L1240,756L1241,750.4L1242,742.4L1242.2,740.6L1243,732.3L1244,719L1244.3,714.6L1245,702.8L1246,682.3L1246.1,680.1L1247,655.5L1247.4,645.5L1248,634L1249,617.8L1249.4,611L1250,600.1L1251,581.7L1251.3,576.4L1252,564.4L1253,548L1253.4,541.8L1254,533L1255,518.9L1255.2,515.9L1255.9,505.1L1256,504.7L1257,502L1258,500.9L1258.2,500.9L1259,501.4L1260,503.4L1260.5,505.1L1261,512.7L1261.2,515.9L1262,524.1L1263,532.2L1264,541.8L1265,555.8L1266,572.8L1266.2,576.4L1267,591.2L1267.9,611L1268,613.6L1269,645.5L1269.8,680.1L1270,684.3L1271,699.6L1272,710.2L1272.4,714.6L1273,721.5L1274,732.4L1274.8,740.6L1275,742.7L1276,752.8L1276.2,754L1277,757.3L1278,759.2L1279,759L1280,758.9L1281,758.9L1282,758.8L1283,758.8L1284,758.8L1285,758.8L1286,758.7L1287,758.7L1288,758.7L1289,758.7L1290,758.6L1291,758.5L1292,758.4L1293,758.3L1294,758.1L1295,757.9L1296,757.7L1297,757.5L1298,757.4L1299,757.2L1300,757L1301,756.8L1302,756.6L1303,756.4L1304,756.2L1305,756L1306,755.8L1307,755.6L1308,755.5L1309,755.4L1310,755.4L1311,755.5L1312,755.7L1313,756.1L1314,756.5L1315,757L1316,757.5L1317,757.9L1318,758.3L1319,758.5L1320,758.6L1321,758.6L1322,758.5L1323,758.3L1324,758.2L1325,758L1326,757.8L1327,757.7L1328,757.5L1329,757.4L1330,757.4L1331,757.4L1332,757.5L1333,757.7L1334,757.8L1335,758L1336,758.2L1337,758.3L1338,758.5L1339,758.6L1340,758.6L1341,758.4L1342,757.7L1343,756.7L1344,755.4L1345,754L1346,752.5L1347,751L1348,749.3L1349,747.2L1350,744.8L1351,742.6L1352,740.5L1353,739L1354,737.8L1355,736.6L1356,735.5L1357,734.5L1358,733.7L1359,733.2L1360,733L1361,733.2L1362,733.7L1363,734.4L1364,735.4L1365,736.5L1366,737.7L1367,739L1368,740.8L1369,743.3L1370,746.2L1371,748.9L1372,751L1373,752.7L1374,754.4L1375,755.9L1376,757.2L1377,758.3L1378,759L1379,759.5L1380,759.9L1381,760.4L1382,760.7L1383,761L1384,761.2L1385,761.4L1386,761.4L1387,761.4L1388,761.3L1389,761.2L1390,761L1391,760.9L1392,760.7L1393,760.5L1394,760.2L1395,760L1396,759.8L1397,759.6L1398,759.4L1399,759.2L1400,759L1401,758.9L1402,758.7L1403,758.6L1404,758.5L1405,758.4L1406,758.3L1407,758.2L1408,758.1L1409,757.9L1410,757.8L1411,757.6L1412,757.4L1413,757.1L1414,756.8L1415,756.3L1416,755.8L1417,755.2L1418,754.7L1419,754.2L1420,753.7L1421,753.3L1422,753L1423,752.8L1424,752.5L1425,752.3L1426,752.1L1427,751.9L1428,751.7L1429,751.6L1430,751.5L1431,751.4L1432,751.4L1433,751.5L1434,751.9L1435,752.5L1436,753.2L1437,754L1438,754.7L1439,755.4L1440,756L1441,756.5L1442,757L1443,757.6L1444,758.1L1445,758.6L1446,759L1447,759.4L1448,759.7L1449,759.9L1450,760L1451,760L1452,759.9L1453,759.8L1454,759.6L1455,759.4L1456,759.2L1457,758.9L1458,758.7L1459,758.5L1460,758.2L1461,758L1462,757.8L1463,757.6L1464,757.5L1465,757.4L1466,757.4L1467,757.4L1468,757.4L1469,757.5L1470,757.5L1471,757.6L1472,757.6L1473,757.7L1474,757.8L1475,757.8L1476,757.9L1477,757.9L1478,758L1479,758L1480,758L1481,757.9L1482,757.7L1483,757.5L1484,757.1L1485,756.7L1486,756.2L1487,755.8L1488,755.3L1489,754.9L1490,754.5L1491,754.3L1492,754.1L1493,754L1494,754.1L1495,754.2L1496,754.5L1497,754.8L1498,755.1L1499,755.6L1500,756L1501,756.5L1502,757L1503,757.4L1504,757.9L1505,758.3L1506,758.6L1507,758.9L1508,759.3L1509,759.7L1510,760L1511,760.4L1512,760.8L1513,761.1L1514,761.4L1515,761.6L1516,761.8L1517,762L1518,762L1519,761.9L1520,761.6L1521,761.1L1522,760.5L1523,759.9L1524,759.4L1525,758.9L1526,758.6L1527,758.4L1528,758.2L1529,758L1530,757.8L1531,757.6L1532,757.5L1533,757.4L1534,757.4L1535,757.4L1536,757.5L1537,757.6L1538,757.8L1539,758L1540,758.2L1541,758.5L1542,758.7L1543,758.9L1544,759.2L1545,759.4L1546,759.6L1547,759.8L1548,759.9L1549,760L1550,760L1551,760L1552,759.9L1553,759.8L1554,759.7L1555,759.6L1556,759.4L1557,759.2L1558,759.1L1559,758.9L1560,758.8L1561,758.7L1562,758.6L1563,758.5L1564,758.5L1565,758.4L1566,758.4L1567,758.4L1568,758.4L1569,758.3L1570,758.3L1571,758.2L1572,758.2L1573,758.1L1574,758L1575,757.5L1576,756.5L1577,754.9L1578,753.1L1579,751L1580,749L1581,746.7L1582,743.8L1583,740.7L1584,737.3L1585,734.1L1586,731L1587,727.9L1588,724.7L1589,721.7L1590,719L1591,717L1592,715.4L1593,714L1594,712.8L1595,712.1L1595.6,712L1596,712.1L1597,712.6L1598,713.7L1599,715.2L1600,717L1601,719L1602,721L1603,723.5L1604,726.6L1605,730.2L1606,733.7L1607,737L1608,740.2L1609,743.5L1610,746.6L1611,749.2L1612,751L1613,752.3L1614,753.5L1615,754.5L1616,755.3L1617,755.8L1618,756L1619,756L1620,756L1621,756L1622,756L1623,756L1624,756L1625,756L1626,756L1627,755.9L1628,755.6L1629,755.1L1630,754.5L1631,753.9L1632,753.2L1633,752.6L1634,752L1635,751.4L1636,750.7L1637,749.9L1638,749.2L1639,748.6L1640,748.2L1641,748L1642,748L1643,748.1L1644,748.2L1645,748.3L1646,748.5L1647,748.7L1648,748.9L1649,749.2L1650,749.4L1651,749.7L1652,750L1653,750.4L1654,750.9L1655,751.5L1656,752.2L1657,753L1658,753.7L1659,754.4L1660,755.1L1661,755.6L1662,756L1663,756.3L1664,756.6L1665,756.9L1666,757.1L1667,757.4L1668,757.6L1669,757.9L1670,758.1L1671,758.3L1672,758.5L1673,758.6L1674,758.8L1675,758.9L1676,758.9L1677,759L1678,759L1679,759L1680,758.9L1681,758.7L1682,758.5L1683,758.2L1684,757.9L1685,757.6L1686,757.3L1687,756.9L1688,756.6L1689,756.3L1690,756L1691,755.7L1692,755.3L1693,754.9L1694,754.6L1695,754.2L1696,753.8L1697,753.5L1698,753.2L1699,753.1L1700,753L1701,753.1L1702,753.5L1703,753.9L1704,754.5L1705,755.1L1706,755.5L1707,755.9L1708,756L1709,755L1710,752.5L1711,749L1712,745L1713,739.5L1714,732L1715,723.4L1716,715L1717,706.6L1718,697.7L1719,689L1720,681L1721,673.4L1722,665.8L1723,659.4L1724,655L1725,652.1L1726,649.4L1727,647.3L1728,645.9L1729,645.4L1730,646L1731,647.7L1732,650.3L1733,653.4L1734,657L1735,662.5L1736,670.6L1737,679.9L1738,689L1739,698.2L1740,708.1L1741,717.4L1742,725L1743,731.2L1744,736.9L1745,741.9L1746,746L1747,749L1748,751.3L1749,753.3L1750,755.1L1751,756.5L1752,757.5L1753,758L1754,758.2L1755,758.3L1756,758.5L1757,758.6L1758,758.7L1759,758.9L1760,759L1761,759L1762,759.1L1763,759.2L1764,759.2L1765,759.3L1766,759.3L1767,759.4L1768,759.4L1769,759.4L1770,759.4L1771,759.4L1772,759.4L1773,759.4L1774,759.3L1775,759.3L1776,759.3L1777,759.3L1778,759.2L1779,759.2L1780,759.2L1781,759.1L1782,759.1L1783,759.1L1784,759.1L1785,759L1786,759L1787,759L1788,759L1789,759.1L1790,759.5L1791,759.9L1792,760.5L1793,761.1L1794,761.5L1795,761.9L1796,762L1797,761.9L1798,761.7L1799,761.4L1800,761L1801,760.6L1802,760.2L1803,759.7L1804,759.3L1805,758.9L1806,758.6L1807,758.3L1808,758.1L1809,757.8L1810,757.6L1811,757.3L1812,757.2L1813,757L1814,757L1815,757.1L1816,757.3L1817,757.6L1818,758L1819,758.5L1820,759L1821,759.5L1822,760.1L1823,760.6L1824,761L1825,761.4L1826,761.9L1827,762.5L1828,763L1829,763.5L1830,764L1831,764.4L1832,764.7L1833,764.9L1834,765L1835,764.8L1836,764.4L1837,763.7L1838,763L1839,762.3L1840,761.6L1841,761.2L1842,761L1843,761L1844,761L1845,761L1846,761L1847,761L1848,761L1849,761L1850,761L1851,761L1852,761L1853,761L1854,761.1L1855,761.2L1856,761.5L1857,761.8L1858,762.2L1859,762.7L1860,763.1L1861,763.6L1862,764L1863,764.5L1864,764.9L1865,765.2L1866,765.4L1867,765.6L1868,765.7L1869,765.8L1870,765.9L1871,766L1872,766.1L1873,766.2L1874,766.2L1875,766.3L1876,766.3L1877,766.4L1878,766.4L1879,766.4L1880,766.3L1881,766.2L1882,766L1883,765.6L1884,765.3L1885,764.9L1886,764.4L1887,764L1888,763.5L1889,763L1890,762.6L1891,762.2L1892,761.9L1893,761.6L1894,761.4L1895,761.1L1896,760.8L1897,760.6L1898,760.3L1899,760.1L1900,759.9L1901,759.7L1902,759.5L1903,759.3L1904,759.2L1905,759.1L1906,759L1907,759L1908,759.1L1909,759.5L1910,760L1911,760.7L1912,761.5L1913,762.4L1914,763.3L1915,764.1L1916,764.9L1917,765.6L1918,766.1L1919,766.4L1920,766.6L1921,766.8L1922,766.9L1923,767.1L1924,767.2L1925,767.4L1926,767.5L1927,767.6L1928,767.7L1929,767.8L1930,767.8L1931,767.9L1932,768L1933,768L1934,768L1935,768.1L1936,768.1L1937,768.1L1938,768.2L1939,768.2L1940,768.2L1941,768.3L1942,768.3L1943,768.3L1944,768.3L1945,768.3L1946,768.4L1947,768.4L1948,768.4L1949,768.4L1950,768.4L1951,768.4L1952,768.4L1953,768.3L1954,768.1L1955,767.9L1956,767.6L1957,767.3L1958,767L1959,766.7L1960,766.4L1961,766.1L1962,765.8L1963,765.5L1964,765.3L1965,765.1L1966,765L1967,765L1968,765.1L1969,765.2L1970,765.5L1971,765.8L1972,766.2L1973,766.6L1974,767L1975,767.4L1976,767.8L1977,768.2L1978,768.5L1979,768.8L1980,768.9L1981,769L1982,769L1983,769L1984,768.9L1985,768.9L1986,768.9L1987,768.8L1988,768.8L1989,768.7L1990,768.6L1991,768.6L1992,768.5L1993,768.5L1994,768.5L1995,768.4L1996,768.4L1997,768.4L1998,768.5L1999,768.8L2000,769.2L2001,769.7L2002,770.2L2003,770.6L2004,770.9L2005,771L2006,770.9L2007,770.7L2008,770.4L2009,770L2010,769.6L2011,769.1L2012,768.6L2013,768.2L2014,767.7L2015,767.4L2016,767.1L2017,767L2018,766.9L2019,766.9L2020,766.8L2021,766.8L2022,766.7L2023,766.7L2024,766.6L2025,766.6L2026,766.6L2027,766.6L2028,766.7L2029,766.9L2030,767.2L2031,767.6L2032,768L2033,768.3L2034,768.5L2035,768.6L2036,768.6L2037,768.5L2038,768.5L2039,768.4L2040,768.2L2041,768.1L2042,767.9L2043,767.8L2044,767.7L2045,767.5L2046,767.4L2047,767.2L2048,767.1L2049,767.1L2050,767L2051,767L2052,767L2053,767.1L2054,767.1L2055,767.3L2056,767.4L2057,767.5L2058,767.7L2059,767.8L2060,768L2061,768.2L2062,768.3L2063,768.5L2064,768.6L2065,768.7L2066,768.9L2067,768.9L2068,769L2069,769L2070,769L2071,769L2072,769L2073,769L2074,769L2075,769L2076,769L2077,769L2078,769L2079,769L2080,769L2081,769L2082,769L2083,769L2084,769L2085,768.9L2086,768.8L2087,768.7L2088,768.5L2089,768.4L2090,768.2L2091,768L2092,767.8L2093,767.6L2094,767.5L2095,767.3L2096,767.2L2097,767.1L2098,767L2099,767L2100,767L2101,767.1L2102,767.1L2103,767.2L2104,767.3L2105,767.4L2106,767.6L2107,767.7L2108,767.9L2109,768L2110,768.1L2111,768.3L2112,768.4L2113,768.6L2114,768.7L2115,768.8L2116,768.9L2117,768.9L2118,769L2119,769L2120,769L2121,768.9L2122,768.8L2123,768.6L2124,768.5L2125,768.3L2126,768.1L2127,768L2128,767.8L2129,767.7L2130,767.6L2131,767.6L2132,767.7L2133,768.1L2134,768.5L2135,769.1L2136,769.5L2137,769.9L2138,770L2139,769.8L2140,769.3L2141,768.5L2142,767.4L2143,766.3L2144,765.1L2145,764L2146,762.7L2147,761.1L2148,759.3L2149,757.5L2150,755.7L2151,754.2L2152,753L2153,752L2154,751L2155,750L2156,749.1L2157,748.4L2158,747.9L2159,747.6L2159.4,747.6L2160,747.7L2161,748.1L2162,748.9L2163,750L2164,751.2L2165,752.5L2166,753.8L2167,755L2168,756.4L2169,758L2170,759.8L2171,761.6L2172,763.4L2173,764.9L2174,766.2L2175,767L2176,767.6L2177,768.1L2178,768.6L2179,769L2180,769.4L2181,769.7L2182,770L2183,770.2L2184,770.4L2185,770.4L2186,770.4L2187,770.4L2188,770.4L2189,770.3L2190,770.3L2191,770.3L2192,770.2L2193,770.2L2194,770.2L2195,770.1L2196,770.1L2197,770.1L2198,770L2199,770L2200,770L2201,770L2202,770L2203,770L2204,770.1L2205,770.1L2206,770.2L2207,770.3L2208,770.4L2209,770.5L2210,770.6L2211,770.7L2212,770.8L2213,771L2214,771.1L2215,771.3L2216,771.4" stroke="#00aa64" stroke-width="8"/>
<path class="curve" d="M199,375.4L200,374.9L201,374.4L202,373.9L203,373.5L204,373L205,372.5L206,372.1L207,371.7L208,371.3L209,370.9L210,370.6L211,370.3L212,370L213,369.7L214,369.5L215,369.3L216,369.1L217,368.9L218,368.8L219,368.6L220,368.4L221,368.3L222,368.2L223,368L224,367.9L225,367.8L226,367.6L227,367.5L228,367.3L229,367.2L230,367L231,366.8L232,366.6L233,366.4L234,366.1L235,365.9L236,365.6L237,365.2L238,364.7L239,364.1L240,363.3L241,362.5L242,361.7L243,360.9L244,360.2L245,359.5L246,358.9L247,358.4L248,358.1L249,358L250,358L251,358L252,358.1L253,358.2L254,358.3L255,358.4L256,358.5L257,358.5L258,358.6L259,358.7L260,358.8L261,358.9L262,359L263,359L264,359L265,359L266,359L267,358.9L268,358.8L269,358.7L270,358.6L271,358.4L272,358.3L273,358.1L274,357.9L275,357.7L276,357.5L277,357.3L278,357.1L279,356.8L280,356.6L281,356.3L282,356.1L283,355.8L284,355.5L285,355.3L286,355L287,354.7L288,354.2L289,353.8L290,353.2L291,352.7L292,352.2L293,351.7L294,351.3L295,351.1L296,351L297,351L298,351L299,351.1L300,351.1L301,351.2L302,351.2L303,351.3L304,351.4L305,351.4L306,351.5L307,351.5L308,351.6L309,351.6L310,351.6L311,351.6L312,351.5L313,351.4L314,351.2L315,351L316,350.8L317,350.6L318,350.3L319,350L320,349.7L321,349.3L322,349L323,348.5L324,347.8L325,347L326,346.1L327,345.3L328,344.5L329,343.9L330,343.6L331,343.4L332,343.3L333,343.2L334,343.1L335,343.1L336,343L337,343L338,342.9L339,342.8L340,342.7L341,342.6L342,342.4L343,342L344,341.2L345,340.3L346,339.4L347,338.7L348,338.4L349,338.4L350,338.6L351,338.8L352,339L353,339.3L354,339.6L355,339.9L356,340.2L357,340.5L358,340.8L359,341L360,341.2L361,341.4L362,341.4L363,341.4L364,341.3L365,341.2L366,341.1L367,341L368,340.8L369,340.6L370,340.4L371,340.2L372,340L373,339.7L374,339.2L375,338.5L376,337.9L377,337.2L378,336.6L379,336.2L380,336L381,335.9L382,335.8L383,335.8L384,335.7L385,335.7L386,335.6L387,335.6L388,335.6L389,335.7L390,336.1L391,336.6L392,337.2L393,337.9L394,338.7L395,339.4L396,340L397,340.5L398,340.9L399,341L400,338.6L401,332.4L402,324.5L402.3,322L403,315L404,301.3L405,285.2L405.7,273.5L406,268.4L407,249.9L408,229.5L408.2,225.2L409,205.7L410,180.9L410.2,176.8L411,162.2L412,146.2L413,131.4L413.2,128.4L414,117.2L415,103.4L415.7,92.6L416,91.5L417,89.2L418,88.4L419,89.2L420,91.5L420.3,92.6L421,103.4L422,111.7L423,117.6L424,125.2L424.3,128.4L425,141L426,166.9L426.4,176.8L427,190.7L428,213.8L428.5,225.2L429,236.7L430,259.6L430.7,273.5L431,278.7L432,294.5L433,308.5L434,320.8L434.1,322L435,332.2L435.6,337L436,339L437,342L438,342.3L439,342.5L440,342.6L441,342.6L442,342.7L443,342.8L444,343L445,343.4L446,344L447,344.9L448,345.8L449,346.8L450,347.7L451,348.5L452,349L453,349.4L454,349.8L455,350.2L456,350.6L457,350.9L458,351.2L459,351.5L460,351.7L461,351.9L462,352L463,352L464,351.9L465,351.7L466,351.3L467,350.9L468,350.3L469,349.7L470,349.1L471,348.5L472,347.9L473,347.3L474,346.7L475,346.3L476,345.9L477,345.7L478,345.6L479,345.7L480,346L481,346.4L482,346.9L483,347.5L484,348.1L485,348.7L486,349.2L487,349.7L488,350L489,350.2L490,350.5L491,350.7L492,350.9L493,351.1L494,351.3L495,351.5L496,351.6L497,351.7L498,351.9L499,351.9L500,352L501,352L502,351.9L503,351.6L504,351.1L505,350.5L506,349.8L507,349.2L508,348.5L509,347.9L510,347.4L511,347.1L512,347L513,347L514,347.2L515,347.4L516,347.7L517,348L518,348.4L519,348.8L520,349.2L521,349.6L522,350L523,350.5L524,351.1L525,351.9L526,352.7L527,353.5L528,354.4L529,355.2L530,356L531,356.6L532,357.1L533,357.5L534,357.6L535,357.4L536,357L537,356.3L538,355.4L539,354.5L540,353.5L541,352.6L542,351.9L543,351.3L544,351L545,350.9L546,350.8L547,350.7L548,350.6L549,350.5L550,350.4L551,350.4L552,350.4L553,350.5L554,350.7L555,351.1L556,351.6L557,352.1L558,352.7L559,353.3L560,353.9L561,354.4L562,354.9L563,355.3L564,355.5L565,355.6L566,355.6L567,355.5L568,355.3L569,355.1L570,354.8L571,354.4L572,354L573,353.6L574,353.1L575,352.6L576,352L577,351L578,349.5L579,347.4L580,345.1L581,342.6L582,340.2L583,338L584,335.7L585,333.1L586,330.3L587,327.5L588,324.7L589,322.2L590,319.9L591,318.2L592,317L593,316.6L594,316.9L595,317.6L596,318.7L597,320.1L598,321.8L599,323.7L600,325.8L601,327.9L602,330L603,332.5L604,335.7L605,339.2L606,343L607,346.6L608,350L609,353.6L610,356L611,356.6L612,357.1L613,357.5L614,357.8L615,357.9L616,358L617,357.8L618,357.4L619,356.7L620,356L621,355.3L622,354.6L623,354.2L624,354L625,354L626,354.1L627,354.3L628,354.5L629,354.8L630,355L631,355.3L632,355.6L633,356L634,356.4L635,357L636,357.6L637,358.1L638,358.6L639,358.9L640,359L641,358.6L642,357.5L643,355.9L644,354L645,350.7L646,345.2L647,338.1L648,330L649,318L650,302.8L651,290L652,280.9L653,273L654,266L655,260L656,254L657,248L658,242.8L659,239L660,237.6L661,239L662,242.8L663,248L664,254L665,260L666,266.6L667,274.3L668,282.5L669,290L670,297.7L671,305.7L672,312.4L673,316L674,317.4L675,318.5L676,319.3L677,319.8L678,320L679,319.6L680,318.7L681,317.5L682,316.3L683,315.4L684,315L685,315.3L686,316L687,317.1L688,318.4L689,320L690,322.6L691,326.5L692,331.2L693,336L694,341.6L695,348.1L696,354.1L697,358L698,360.3L699,362.3L700,363.9L701,365.1L702,365.6L703,365.8L704,366L705,366.1L706,366.2L707,366.3L708,366.4L709,366.4L710,366.4L711,366.4L712,366.3L713,366.3L714,366.2L715,366.1L716,366.1L717,366L718,366L719,366.2L720,366.8L721,367.6L722,368.5L723,369.5L724,370.4L725,371.2L726,371.8L727,372L728,371.1L729,368.9L730,365.6L731,361.8L732,358L733,353.5L734,347.9L735,341.8L736,335.6L737,330L738,324.6L739,319.1L740,313.9L741,309.4L742,306L743,303.3L744,300.9L745,299.1L746,298.4L747,298.8L748,299.9L749,301.3L749.5,302L750,302.8L751,305.1L752,308L752.4,309.4L753,312L754,318L755,324.8L755.3,326.7L756,331.3L757,338.1L757.9,344L758,344.6L759,351.3L760,357.5L760.8,361.3L761,362.1L762,365.5L763,368.1L763.5,369L764,369.7L765,370.8L766,371.7L767,372.6L768,373.5L769,374.3L770,375L771,375.6L772,376.2L773,376.7L774,377.2L775,377.6L776,377.9L777,378L778,376.6L779,372.7L780,367L781,360L782,347.4L783,330L784,310.9L785,289.9L786,270L787,251.9L788,234.8L789,220L790,208.4L791,198.7L792,189L793,177.4L793.7,166.6L794,165.5L795,163.2L796,162.4L797,163.2L798,165.5L798.3,166.6L799,177.4L800,189L801,198.7L802,208.4L803,220L804,235.1L805,252.5L806,270L807,287.1L808,304.2L809,320L810,334.7L811,348.5L812,360L813,370.7L814,380L815,384L816,383.9L817,383.4L818,382.9L819,382.1L820,381.4L821,380.7L822,380L823,379.4L824,378.6L825,377.8L826,377L827,376.3L828,375.6L829,375.1L830,374.7L831,374.6L832,374.7L833,374.8L834,375L835,375.3L836,375.6L837,376L838,376.3L839,376.7L840,377L841,377.4L842,377.8L843,378.2L844,378.7L845,379.1L846,379.6L847,380L848,380.4L849,380.7L850,381L851,381.2L852,381.4L853,381.6L854,381.8L855,382L856,382.2L857,382.4L858,382.5L859,382.7L860,382.8L861,382.9L862,382.9L863,383L864,383L865,383L866,383L867,382.9L868,382.9L869,382.9L870,382.8L871,382.7L872,382.7L873,382.6L874,382.5L875,382.4L876,382.3L877,382.2L878,382.1L879,382L880,381.9L881,381.8L882,381.7L883,381.6L884,381.5L885,381.4L886,381.3L887,381.2L888,381.1L889,381.1L890,381L891,380.9L892,380.9L893,380.8L894,380.7L895,380.7L896,380.6L897,380.5L898,380.5L899,380.4L900,380.3L901,380.3L902,380.2L903,380.2L904,380.1L905,380.1L906,380.1L907,380L908,380L909,380L910,380L911,380L912,380L913,380.1L914,380.1L915,380.2L916,380.2L917,380.3L918,380.4L919,380.4L920,380.5L921,380.5L922,380.6L923,380.6L924,380.6L925,380.6L926,380.5L927,380.5L928,380.4L929,380.2L930,380.1L931,379.9L932,379.8L933,379.7L934,379.5L935,379.4L936,379.2L937,379.1L938,379.1L939,379L940,379L941,379L942,379L943,379L944,379L945,379.1L946,379.1L947,379.1L948,379.1L949,379.2L950,379.2L951,379.2L952,379.3L953,379.3L954,379.3L955,379.4L956,379.4L957,379.5L958,379.5L959,379.6L960,379.6L961,379.7L962,379.7L963,379.8L964,379.9L965,380L966,380.1L967,380.2L968,380.3L969,380.4L970,380.5L971,380.6L972,380.8L973,380.9L974,381L975,381.1L976,381.2L977,381.3L978,381.4L979,381.5L980,381.6L981,381.7L982,381.8L983,381.8L984,381.9L985,382L986,382.1L987,382.2L988,382.3L989,382.4L990,382.4L991,382.5L992,382.6L993,382.7L994,382.7L995,382.8L996,382.8L997,382.9L998,382.9L999,383L1000,383L1001,383L1002,383L1003,383L1004,383L1005,383L1006,382.9L1007,382.9L1008,382.9L1009,382.8L1010,382.7L1011,382.7L1012,382.6L1013,382.5L1014,382.5L1015,382.4L1016,382.3L1017,382.2L1018,382.1L1019,382L1020,381.9L1021,381.9L1022,381.8L1023,381.7L1024,381.6L1025,381.5L1026,381.4L1027,381.3L1028,381.2L1029,381.1L1030,381L1031,380.9L1032,380.8L1033,380.7L1034,380.5L1035,380.4L1036,380.2L1037,380.1L1038,379.9L1039,379.8L1040,379.7L1041,379.5L1042,379.4L1043,379.3L1044,379.2L1045,379.1L1046,379.1L1047,379L1048,379L1049,379.1L1050,379.3L1051,379.5L1052,379.9L1053,380.3L1054,380.7L1055,381.1L1056,381.5L1057,381.9L1058,382.1L1059,382.3L1060,382.4L1061,382.4L1062,382.3L1063,382.2L1064,382.1L1065,382L1066,381.8L1067,381.7L1068,381.5L1069,381.3L1070,381L1071,380.8L1072,380.6L1073,380.3L1074,379.9L1075,379.4L1076,378.9L1077,378.3L1078,377.7L1079,377.2L1080,376.7L1081,376.3L1082,376.1L1083,376L1084,376.1L1085,376.3L1086,376.6L1087,377L1088,377.5L1089,378L1090,378.6L1091,379.1L1092,379.6L1093,380.1L1094,380.5L1095,380.8L1096,381L1097,381.1L1098,381.2L1099,381.3L1100,381.4L1101,381.5L1102,381.6L1103,381.7L1104,381.8L1105,381.8L1106,381.9L1107,381.9L1108,382L1109,382L1110,382L1111,381.8L1112,381.2L1113,380.4L1114,379.4L1115,378.3L1116,377.4L1117,376.5L1118,376L1119,375.6L1120,375.3L1121,374.9L1122,374.6L1123,374.4L1124,374.2L1125,374L1126,374L1127,374.1L1128,374.5L1129,375.1L1130,375.8L1131,376.6L1132,377.4L1133,378.2L1134,379L1135,379.9L1136,380.9L1137,382.1L1138,383.2L1139,384.3L1140,385.2L1141,385.8L1142,386L1143,386L1144,386L1145,385.9L1146,385.8L1147,385.8L1148,385.7L1149,385.6L1150,385.5L1151,385.3L1152,385.2L1153,385.1L1154,385L1155,384.9L1156,384.7L1157,384.6L1158,384.4L1159,384.2L1160,383.9L1161,383.7L1162,383.5L1163,383.3L1164,383L1165,382.8L1166,382.6L1167,382.4L1168,382.2L1169,382L1170,381.9L1171,381.8L1172,381.7L1173,381.6L1174,381.6L1175,381.6L1176,381.6L1177,381.7L1178,381.7L1179,381.8L1180,381.8L1181,381.9L1182,382L1183,382L1184,382.1L1185,382.2L1186,382.3L1187,382.4L1188,382.5L1189,382.6L1190,382.6L1191,382.7L1192,382.8L1193,382.8L1194,382.9L1195,382.9L1196,383L1197,383L1198,383L1199,383L1200,383L1201,382.9L1202,382.9L1203,382.8L1204,382.7L1205,382.6L1206,382.5L1207,382.4L1208,382.2L1209,382.1L1210,382L1211,381.9L1212,381.8L1213,381.6L1214,381.5L1215,381.4L1216,381.3L1217,381.2L1218,381.1L1219,381.1L1220,381L1221,381L1222,381L1223,381L1224,381.1L1225,381.2L1226,381.3L1227,381.4L1228,381.6L1229,381.8L1230,382.1L1231,382.4L1232,382.7L1233,383L1234,383.8L1235,385.4L1236,387.2L1237,389.1L1238,390.6L1239,391.3L1239.2,391.3L1240,390.5L1241,387.8L1242,384.1L1242.3,383L1243,380.1L1244,374.2L1244.3,372L1245,364.4L1246,349.1L1246.6,339.7L1247,333.8L1248,318.6L1248.7,307.4L1249,302.4L1250,284.6L1250.5,275.2L1251,265.5L1252,245L1252.1,242.9L1253,221.6L1253.5,210.6L1254,200.9L1255,183.8L1255.4,178.4L1256,172.2L1257,163.7L1257.5,158.4L1258,149.6L1258.2,147.6L1259,145.1L1260,143.6L1260.5,143.4L1261,143.6L1262,145.1L1262.8,147.6L1263,149.7L1263.5,158.4L1264,162.8L1265,168.7L1266,174.9L1266.4,178.4L1267,186L1268,204.2L1268.3,210.6L1269,230.9L1269.4,242.9L1270,258.6L1270.7,275.2L1271,281.8L1272,302.2L1272.3,307.4L1273,318L1274,331.2L1274.7,339.7L1275,343.3L1276,355.6L1277,366.4L1277.7,372L1278,373.9L1279,379.5L1279.8,382L1280,382.3L1281,383.6L1282,384.3L1282.5,384.4L1283,384.4L1284,384.4L1285,384.3L1286,384.3L1287,384.2L1288,384.1L1289,384L1290,383.8L1291,383.7L1292,383.6L1293,383.5L1294,383.4L1295,383.3L1296,383.2L1297,383.1L1298,383.1L1299,383L1300,383L1301,383L1302,383L1303,383L1304,383L1305,383L1306,383L1307,383L1308,383L1309,383L1310,383L1311,383L1312,383L1313,383L1314,383L1315,383L1316,383L1317,383L1318,383L1319,383L1320,383L1321,383L1322,383L1323,383L1324,383L1325,383L1326,383L1327,383L1328,383L1329,383L1330,383L1331,383L1332,383L1333,383L1334,383L1335,383L1336,383L1337,383L1338,383L1339,383L1340,383L1341,383L1342,383L1343,382.9L1344,382.4L1345,381.8L1346,381L1347,380.1L1348,379.1L1349,378L1350,376.6L1351,374.6L1352,372.3L1353,369.9L1354,367.7L1355,366L1356,364.5L1357,363L1358,361.6L1359,360.3L1360,359.3L1361,358.6L1362,358.4L1363,358.6L1364,359.3L1365,360.3L1366,361.6L1367,363L1368,364.5L1369,366L1370,367.7L1371,369.9L1372,372.3L1373,374.8L1374,377.1L1375,379L1376,380.8L1377,382.7L1378,384.3L1379,385.5L1380,386L1381,386L1382,386L1383,386L1384,385.9L1385,385.9L1386,385.9L1387,385.8L1388,385.8L1389,385.8L1390,385.7L1391,385.7L1392,385.6L1393,385.5L1394,385.3L1395,385.1L1396,384.8L1397,384.5L1398,384.2L1399,384L1400,383.8L1401,383.7L1402,383.6L1403,383.6L1404,383.7L1405,383.9L1406,384.1L1407,384.3L1408,384.5L1409,384.7L1410,384.9L1411,385L1412,385L1413,384.8L1414,384.4L1415,383.6L1416,382.7L1417,381.7L1418,380.7L1419,379.6L1420,378.6L1421,377.7L1422,377L1423,376.4L1424,375.8L1425,375.1L1426,374.5L1427,374L1428,373.5L1429,373L1430,372.7L1431,372.5L1432,372.4L1433,372.6L1434,373L1435,373.6L1436,374.5L1437,375.4L1438,376.3L1439,377.2L1440,378L1441,378.8L1442,379.8L1443,380.8L1444,381.8L1445,382.9L1446,383.8L1447,384.7L1448,385.4L1449,385.8L1450,386L1451,386L1452,386.1L1453,386.1L1454,386.2L1455,386.2L1456,386.2L1457,386.2L1458,386.3L1459,386.3L1460,386.3L1461,386.3L1462,386.3L1463,386.4L1464,386.4L1465,386.4L1466,386.4L1467,386.4L1468,386.4L1469,386.4L1470,386.4L1471,386.4L1472,386.3L1473,386.2L1474,386.1L1475,385.9L1476,385.8L1477,385.5L1478,385.3L1479,385.1L1480,384.8L1481,384.5L1482,384.3L1483,384L1484,383.7L1485,383.5L1486,383.2L1487,382.9L1488,382.7L1489,382.5L1490,382.2L1491,382.1L1492,381.9L1493,381.8L1494,381.7L1495,381.6L1496,381.6L1497,381.6L1498,381.6L1499,381.6L1500,381.7L1501,381.7L1502,381.7L1503,381.8L1504,381.8L1505,381.9L1506,381.9L1507,382L1508,382L1509,382L1510,382.1L1511,382.1L1512,382.2L1513,382.2L1514,382.3L1515,382.3L1516,382.3L1517,382.4L1518,382.4L1519,382.4L1520,382.4L1521,382.4L1522,382.4L1523,382.4L1524,382.3L1525,382.3L1526,382.3L1527,382.2L1528,382.2L1529,382.2L1530,382.1L1531,382.1L1532,382L1533,381.9L1534,381.9L1535,381.8L1536,381.8L1537,381.7L1538,381.6L1539,381.6L1540,381.5L1541,381.5L1542,381.4L1543,381.3L1544,381.3L1545,381.2L1546,381.2L1547,381.2L1548,381.1L1549,381.1L1550,381.1L1551,381L1552,381L1553,381L1554,381L1555,381.1L1556,381.3L1557,381.6L1558,381.9L1559,382.4L1560,382.9L1561,383.4L1562,384L1563,384.6L1564,385.1L1565,385.6L1566,386.1L1567,386.4L1568,386.7L1569,386.9L1570,387L1571,386.8L1572,386.2L1573,385.2L1574,384.1L1575,382.7L1576,381.2L1577,379.6L1578,378L1579,376.3L1580,374.2L1581,371.8L1582,369.2L1583,366.4L1584,363.6L1585,360.8L1586,358L1587,355L1588,351.6L1589,348.2L1590,344.9L1591,342.1L1592,340L1593,338.4L1594,336.9L1595,335.6L1596,334.7L1597,334.4L1598,334.8L1599,336L1600,337.7L1601,339.7L1602,341.9L1603,344L1604,346.3L1605,348.9L1606,351.8L1607,354.9L1608,358.1L1609,361.1L1610,364L1611,367L1612,370.3L1613,373.6L1614,376.6L1615,378.8L1616,380L1617,380.6L1618,381L1619,381.4L1620,381.7L1621,381.9L1622,382L1623,381.8L1624,381.4L1625,380.7L1626,379.8L1627,378.8L1628,377.8L1629,376.7L1630,375.7L1631,374.8L1632,374L1633,373.3L1634,372.6L1635,371.8L1636,371.1L1637,370.4L1638,369.9L1639,369.4L1640,369.1L1641,369L1642,369.1L1643,369.5L1644,370L1645,370.6L1646,371.3L1647,372L1648,372.8L1649,373.4L1650,374L1651,374.5L1652,375L1653,375.6L1654,376.1L1655,376.6L1656,377.1L1657,377.6L1658,378L1659,378.5L1660,378.9L1661,379.3L1662,379.6L1663,379.9L1664,380.3L1665,380.6L1666,380.9L1667,381.3L1668,381.6L1669,381.9L1670,382.2L1671,382.5L1672,382.8L1673,383.1L1674,383.3L1675,383.5L1676,383.7L1677,383.8L1678,383.9L1679,384L1680,384L1681,384L1682,383.8L1683,383.7L1684,383.4L1685,383.2L1686,382.9L1687,382.5L1688,382.2L1689,381.8L1690,381.4L1691,381.1L1692,380.7L1693,380.4L1694,380.2L1695,379.9L1696,379.8L1697,379.6L1698,379.6L1699,379.7L1700,379.9L1701,380.3L1702,380.7L1703,381.3L1704,381.8L1705,382.3L1706,382.9L1707,383.3L1708,383.7L1709,383.9L1710,384L1711,383.2L1712,381.1L1713,377.9L1714,374.1L1715,370L1716,364.4L1717,356.8L1718,348.3L1719,340L1720,332L1721,323.8L1722,315.5L1723,307.5L1724,300L1725,292.4L1726,284.8L1727,278.3L1728,274L1729,271.4L1730,269.1L1731,267.6L1732,267L1733,267.7L1734,269.7L1735,272.6L1736,276.1L1737,280L1738,285.4L1739,292.9L1740,301.4L1741,310L1742,318.9L1743,328.5L1744,337.9L1745,346L1746,353.1L1747,359.7L1748,365.4L1749,370L1750,373.9L1751,377.7L1752,380.9L1753,383.2L1754,384L1755,384L1756,383.9L1757,383.8L1758,383.6L1759,383.5L1760,383.4L1761,383.2L1762,383.1L1763,383L1764,383L1765,383L1766,383L1767,383.1L1768,383.2L1769,383.2L1770,383.3L1771,383.4L1772,383.6L1773,383.7L1774,383.8L1775,384L1776,384.1L1777,384.2L1778,384.4L1779,384.6L1780,384.9L1781,385.2L1782,385.6L1783,386L1784,386.4L1785,386.8L1786,387.2L1787,387.5L1788,387.8L1789,387.9L1790,388L1791,387.9L1792,387.7L1793,387.4L1794,387L1795,386.6L1796,386L1797,385.5L1798,385L1799,384.5L1800,384L1801,383.5L1802,382.9L1803,382.3L1804,381.6L1805,380.9L1806,380.3L1807,379.8L1808,379.4L1809,379.1L1810,379L1811,379.1L1812,379.3L1813,379.6L1814,380L1815,380.4L1816,381L1817,381.5L1818,382L1819,382.5L1820,383L1821,383.5L1822,384.1L1823,384.7L1824,385.3L1825,386L1826,386.7L1827,387.3L1828,387.8L1829,388.3L1830,388.7L1831,388.9L1832,389L1833,388.9L1834,388.6L1835,388.3L1836,387.8L1837,387.2L1838,386.7L1839,386.2L1840,385.7L1841,385.3L1842,385L1843,384.8L1844,384.6L1845,384.4L1846,384.3L1847,384.1L1848,384L1849,383.8L1850,383.7L1851,383.7L1852,383.6L1853,383.6L1854,383.7L1855,383.9L1856,384.2L1857,384.7L1858,385.2L1859,385.7L1860,386.3L1861,386.9L1862,387.4L1863,387.9L1864,388.4L1865,388.7L1866,388.9L1867,389L1868,389L1869,389L1870,388.9L1871,388.9L1872,388.8L1873,388.8L1874,388.7L1875,388.6L1876,388.5L1877,388.5L1878,388.4L1879,388.3L1880,388.2L1881,388.1L1882,388.1L1883,388L1884,387.9L1885,387.9L1886,387.8L1887,387.7L1888,387.6L1889,387.5L1890,387.5L1891,387.4L1892,387.3L1893,387.2L1894,387.2L1895,387.1L1896,387.1L1897,387L1898,387L1899,387L1900,387L1901,387L1902,387.1L1903,387.1L1904,387.2L1905,387.2L1906,387.3L1907,387.4L1908,387.5L1909,387.5L1910,387.6L1911,387.8L1912,387.9L1913,388L1914,388.1L1915,388.2L1916,388.3L1917,388.4L1918,388.5L1919,388.6L1920,388.7L1921,388.8L1922,388.9L1923,389L1924,389.1L1925,389.2L1926,389.2L1927,389.3L1928,389.4L1929,389.4L1930,389.5L1931,389.6L1932,389.6L1933,389.7L1934,389.7L1935,389.8L1936,389.9L1937,390L1938,390L1939,390.1L1940,390.2L1941,390.3L1942,390.4L1943,390.5L1944,390.6L1945,390.7L1946,390.9L1947,391L1948,391.2L1949,391.6L1950,392L1951,392.3L1952,392.4L1953,392.4L1954,392.3L1955,392.1L1956,391.9L1957,391.7L1958,391.4L1959,391.1L1960,390.9L1961,390.6L1962,390.3L1963,390.1L1964,389.9L1965,389.7L1966,389.6L1967,389.6L1968,389.6L1969,389.7L1970,389.7L1971,389.8L1972,389.9L1973,390L1974,390.2L1975,390.3L1976,390.4L1977,390.6L1978,390.7L1979,390.8L1980,390.9L1981,390.9L1982,391L1983,391L1984,391L1985,391L1986,390.9L1987,390.9L1988,390.8L1989,390.7L1990,390.7L1991,390.6L1992,390.5L1993,390.4L1994,390.3L1995,390.3L1996,390.2L1997,390.1L1998,390.1L1999,390L2000,390L2001,390L2002,390L2003,390L2004,390.1L2005,390.1L2006,390.1L2007,390.2L2008,390.2L2009,390.3L2010,390.4L2011,390.4L2012,390.5L2013,390.6L2014,390.6L2015,390.7L2016,390.8L2017,390.8L2018,390.9L2019,390.9L2020,390.9L2021,391L2022,391L2023,391L2024,391L2025,391L2026,391L2027,391L2028,391L2029,391L2030,391L2031,391L2032,391L2033,391L2034,391L2035,391L2036,391L2037,391L2038,391L2039,391L2040,391L2041,391L2042,391L2043,391L2044,391L2045,391L2046,391L2047,391L2048,391L2049,391.1L2050,391.1L2051,391.2L2052,391.4L2053,391.5L2054,391.7L2055,391.8L2056,392L2057,392.2L2058,392.3L2059,392.5L2060,392.6L2061,392.8L2062,392.9L2063,393L2064,393.1L2065,393.2L2066,393.3L2067,393.4L2068,393.5L2069,393.6L2070,393.7L2071,393.8L2072,393.8L2073,393.9L2074,394L2075,394.1L2076,394.1L2077,394.2L2078,394.3L2079,394.3L2080,394.3L2081,394.4L2082,394.4L2083,394.4L2084,394.4L2085,394.4L2086,394.3L2087,394.3L2088,394.2L2089,394.2L2090,394.1L2091,394L2092,393.9L2093,393.8L2094,393.7L2095,393.6L2096,393.5L2097,393.4L2098,393.3L2099,393.3L2100,393.2L2101,393.1L2102,393L2103,393L2104,393L2105,392.9L2106,392.9L2107,392.9L2108,392.8L2109,392.8L2110,392.8L2111,392.7L2112,392.7L2113,392.7L2114,392.7L2115,392.6L2116,392.6L2117,392.6L2118,392.6L2119,392.5L2120,392.5L2121,392.5L2122,392.4L2123,392.4L2124,392.4L2125,392.3L2126,392.3L2127,392.3L2128,392.3L2129,392.2L2130,392.2L2131,392.2L2132,392.2L2133,392.1L2134,392.1L2135,392.1L2136,392L2137,392L2138,392L2139,391.9L2140,391.8L2141,391.8L2142,391.7L2143,391.6L2144,391.3L2145,390.6L2146,389.6L2147,388.5L2148,387.2L2149,386L2150,384.6L2151,382.8L2152,380.8L2153,378.7L2154,376.8L2155,375.2L2156,374L2157,373.1L2158,372.2L2159,371.3L2160,370.6L2161,369.9L2162,369.4L2163,369.1L2164,369L2165,369.2L2166,369.8L2167,370.8L2168,371.9L2169,373.2L2170,374.6L2171,376L2172,377.7L2173,379.8L2174,382.2L2175,384.5L2176,386.6L2177,388L2178,389L2179,390L2180,390.9L2181,391.7L2182,392.4L2183,393L2184,393.4L2185,393.6L2186,393.7L2187,393.8L2188,393.9L2189,394L2190,394.1L2191,394.1L2192,394.2L2193,394.3L2194,394.3L2195,394.3L2196,394.4L2197,394.4L2198,394.4L2199,394.4L2200,394.4L2201,394.4L2202,394.4L2203,394.3L2204,394.3L2205,394.2L2206,394.2L2207,394.1L2208,394L2209,393.9L2210,393.8L2211,393.7L2212,393.6L2213,393.4L2214,393.3L2215,393.2L2216,393" stroke="#c870e0" stroke-width="8"/>
</g>
<g id="labels">
<text transform="translate(198.3,1709.2) scale(1,1.02)" font-size="67" text-anchor="middle" style="fill:#000;stroke:#000;stroke-width:0.60px">20</text>
<text transform="translate(870.3,1709.2) scale(1,1.02)" font-size="67" text-anchor="middle" style="fill:#000;stroke:#000;stroke-width:0.60px">40</text>
<text transform="translate(1542.3,1709.2) scale(1,1.02)" font-size="67" text-anchor="middle" style="fill:#000;stroke:#000;stroke-width:0.60px">60</text>
<text transform="translate(2214.3,1709.2) scale(1,1.02)" font-size="67" text-anchor="middle" style="fill:#000;stroke:#000;stroke-width:0.60px">80</text>
<text transform="translate(0,1842) scale(1,1.005)" font-size="82" style="fill:#000;stroke:#000;stroke-width:0.74px"><tspan x="991.3">2</tspan><tspan x="1127.5">Degree)</tspan></text>
<text transform="translate(1059.1,1842) scale(1.105,0.96)" font-size="82" text-anchor="middle" style="fill:#000;stroke:#000;stroke-width:0.74px" class="sym">θ</text>
<text transform="translate(1101,1842) scale(1,0.97)" font-size="82" style="fill:#000;stroke:#000;stroke-width:0.74px" class="sym">(</text>
<text transform="translate(78.6,1068.6) rotate(-90)" font-size="82" style="fill:#000;stroke:#000;stroke-width:0.74px">Intensity (a.u.)</text>
<text transform="translate(2204,74)" font-size="53" text-anchor="end" style="fill:#000;stroke:#000;stroke-width:0.48px">FTO (*)</text>
<text transform="translate(0,148)" font-size="53" style="fill:#000;stroke:#000;stroke-width:0.48px"><tspan x="1933.3">Zn(OH)</tspan><tspan x="2105.3" font-size="36" dy="13.5">2</tspan><tspan x="2140.3" dy="-13.5">(</tspan><tspan x="2169.4" font-size="69.7" dy="7.4" text-anchor="middle">•</tspan><tspan x="2182.7" dy="-7.4">)</tspan></text>
<text transform="translate(2207.6,284) scale(1,1.02)" font-size="59" text-anchor="end" style="fill:#c400d2;stroke:#c400d2;stroke-width:0.53px">(Z-ZnO 600°C)</text>
<text transform="translate(2206,537.6) scale(1,1.02)" font-size="57.6" text-anchor="end" style="fill:#009000;stroke:#009000;stroke-width:0.52px">(Z-ZnO 500°C<tspan style="fill:#55a800;stroke:#55a800">)</tspan></text>
<text transform="translate(2212.4,880.6) scale(1,1.02)" font-size="55.8" text-anchor="end" style="fill:#0000ff;stroke:#0000ff;stroke-width:0.50px">(Z-ZnO 400°C)</text>
<text transform="translate(2204.4,1257) scale(1,1.02)" font-size="55.8" text-anchor="end" style="fill:#ff0000;stroke:#ff0000;stroke-width:0.50px">(Z-ZnO 300°C)</text>
<text transform="translate(612.2,209.7) rotate(-90) scale(1,0.97)" font-size="53" text-anchor="middle" style="fill:#000;stroke:#000;stroke-width:0.48px">(100)</text>
<text transform="translate(715.6,192.4) rotate(-90) scale(1,0.97)" font-size="53" text-anchor="middle" style="fill:#000;stroke:#000;stroke-width:0.48px">(002)</text>
<text transform="translate(769.9,178) rotate(-90) scale(1,0.97)" font-size="53" text-anchor="middle" style="fill:#000;stroke:#000;stroke-width:0.48px">(101)</text>
<text transform="translate(1146,272.5) rotate(-90) scale(1,0.97)" font-size="53" text-anchor="middle" style="fill:#000;stroke:#000;stroke-width:0.48px">(102)</text>
<text transform="translate(1451.5,275.5) rotate(-90) scale(1,0.97)" font-size="53" text-anchor="middle" style="fill:#000;stroke:#000;stroke-width:0.48px">(110)</text>
<text transform="translate(415.2,59.9) scale(0.88,0.785)" x="0" y="42.5" font-size="83" text-anchor="middle" style="stroke:#000;stroke-width:1.2px">*</text>
<text transform="translate(658,177.8) scale(0.88,0.785)" x="0" y="42.5" font-size="83" text-anchor="middle" style="stroke:#000;stroke-width:1.2px">*</text>
<text transform="translate(796.8,111.6) scale(0.88,0.785)" x="0" y="42.5" font-size="83" text-anchor="middle" style="stroke:#000;stroke-width:1.2px">*</text>
<text transform="translate(1263.2,104.7) scale(0.88,0.785)" x="0" y="42.5" font-size="83" text-anchor="middle" style="stroke:#000;stroke-width:1.2px">*</text>
<text transform="translate(1359.3,324.7) scale(0.88,0.785)" x="0" y="42.5" font-size="83" text-anchor="middle" style="stroke:#000;stroke-width:1.2px">*</text>
<text transform="translate(1594,298.7) scale(0.88,0.785)" x="0" y="42.5" font-size="83" text-anchor="middle" style="stroke:#000;stroke-width:1.2px">*</text>
<text transform="translate(1729.2,247.3) scale(0.88,0.785)" x="0" y="42.5" font-size="83" text-anchor="middle" style="stroke:#000;stroke-width:1.2px">*</text>
<text transform="translate(2162,328.7) scale(0.88,0.785)" x="0" y="42.5" font-size="83" text-anchor="middle" style="stroke:#000;stroke-width:1.2px">*</text>
<text x="484.4" y="1388.6" font-size="108" text-anchor="middle">•</text>
<text x="892" y="1439.4" font-size="108" text-anchor="middle">•</text>
</g>
</svg>
</body>
</html>
